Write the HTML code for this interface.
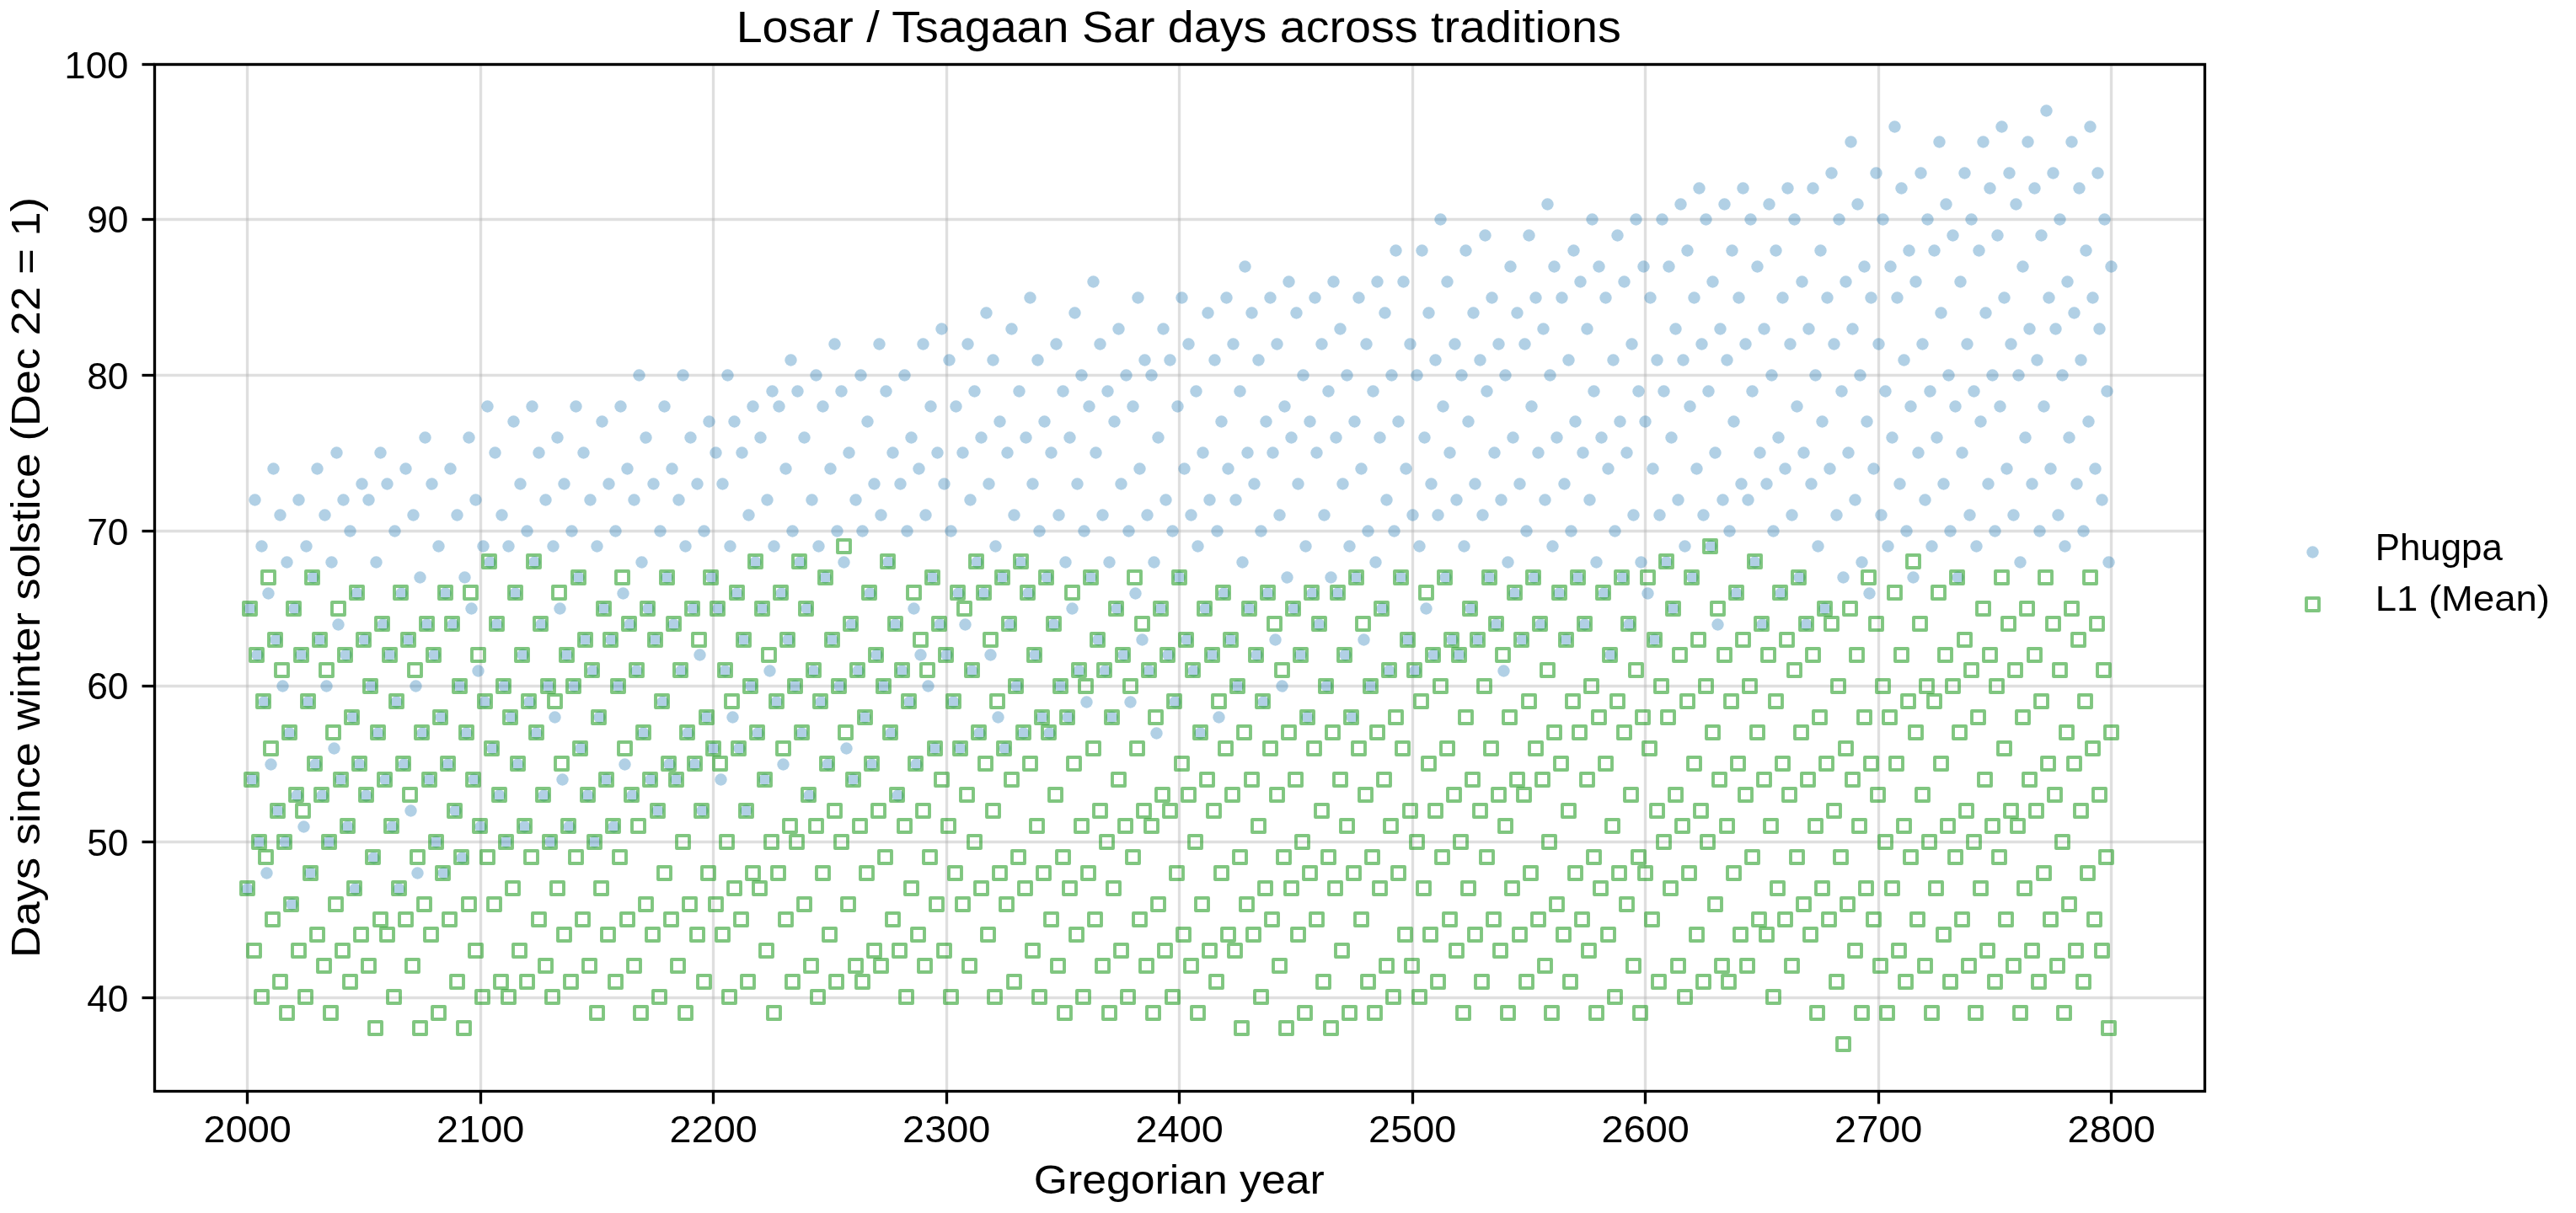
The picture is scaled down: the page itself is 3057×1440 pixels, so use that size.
<!DOCTYPE html><html><head><meta charset="utf-8"><title>Losar / Tsagaan Sar days across traditions</title>
<style>html,body{margin:0;padding:0;background:#fff;overflow:hidden}svg{display:block;will-change:transform}text{font-family:"Liberation Sans",sans-serif;fill:#000}</style></head><body>
<svg width="3057" height="1440" viewBox="0 0 3057 1440">
<rect x="0" y="0" width="3057" height="1440" fill="#fff"/>
<g stroke="#b0b0b0" stroke-opacity="0.4" stroke-width="3.33">
<line x1="293.50" y1="76.5" x2="293.50" y2="1295.5"/>
<line x1="570.50" y1="76.5" x2="570.50" y2="1295.5"/>
<line x1="846.50" y1="76.5" x2="846.50" y2="1295.5"/>
<line x1="1123.50" y1="76.5" x2="1123.50" y2="1295.5"/>
<line x1="1399.50" y1="76.5" x2="1399.50" y2="1295.5"/>
<line x1="1676.50" y1="76.5" x2="1676.50" y2="1295.5"/>
<line x1="1952.50" y1="76.5" x2="1952.50" y2="1295.5"/>
<line x1="2229.50" y1="76.5" x2="2229.50" y2="1295.5"/>
<line x1="2505.50" y1="76.5" x2="2505.50" y2="1295.5"/>
<line x1="183.5" y1="1184.50" x2="2616.5" y2="1184.50"/>
<line x1="183.5" y1="999.50" x2="2616.5" y2="999.50"/>
<line x1="183.5" y1="814.50" x2="2616.5" y2="814.50"/>
<line x1="183.5" y1="630.50" x2="2616.5" y2="630.50"/>
<line x1="183.5" y1="445.50" x2="2616.5" y2="445.50"/>
<line x1="183.5" y1="260.50" x2="2616.5" y2="260.50"/>
<line x1="183.5" y1="76.50" x2="2616.5" y2="76.50"/>
</g>
<g fill="#1f77b4" fill-opacity="0.35">
<circle cx="293.50" cy="1055.50" r="7.2"/><circle cx="296.50" cy="722.50" r="7.2"/><circle cx="299.50" cy="925.50" r="7.2"/><circle cx="302.50" cy="593.50" r="7.2"/><circle cx="305.50" cy="777.50" r="7.2"/><circle cx="307.50" cy="999.50" r="7.2"/><circle cx="310.50" cy="648.50" r="7.2"/><circle cx="313.50" cy="833.50" r="7.2"/><circle cx="316.50" cy="1036.50" r="7.2"/><circle cx="318.50" cy="704.50" r="7.2"/><circle cx="321.50" cy="907.50" r="7.2"/><circle cx="324.50" cy="556.50" r="7.2"/><circle cx="327.50" cy="759.50" r="7.2"/><circle cx="329.50" cy="962.50" r="7.2"/><circle cx="332.50" cy="611.50" r="7.2"/><circle cx="335.50" cy="814.50" r="7.2"/><circle cx="338.50" cy="999.50" r="7.2"/><circle cx="340.50" cy="667.50" r="7.2"/><circle cx="343.50" cy="870.50" r="7.2"/><circle cx="346.50" cy="1073.50" r="7.2"/><circle cx="349.50" cy="722.50" r="7.2"/><circle cx="352.50" cy="944.50" r="7.2"/><circle cx="354.50" cy="593.50" r="7.2"/><circle cx="357.50" cy="777.50" r="7.2"/><circle cx="360.50" cy="981.50" r="7.2"/><circle cx="363.50" cy="648.50" r="7.2"/><circle cx="365.50" cy="833.50" r="7.2"/><circle cx="368.50" cy="1036.50" r="7.2"/><circle cx="371.50" cy="685.50" r="7.2"/><circle cx="374.50" cy="907.50" r="7.2"/><circle cx="376.50" cy="556.50" r="7.2"/><circle cx="379.50" cy="759.50" r="7.2"/><circle cx="382.50" cy="944.50" r="7.2"/><circle cx="385.50" cy="611.50" r="7.2"/><circle cx="387.50" cy="814.50" r="7.2"/><circle cx="390.50" cy="999.50" r="7.2"/><circle cx="393.50" cy="667.50" r="7.2"/><circle cx="396.50" cy="888.50" r="7.2"/><circle cx="399.50" cy="537.50" r="7.2"/><circle cx="401.50" cy="741.50" r="7.2"/><circle cx="404.50" cy="925.50" r="7.2"/><circle cx="407.50" cy="593.50" r="7.2"/><circle cx="410.50" cy="777.50" r="7.2"/><circle cx="412.50" cy="981.50" r="7.2"/><circle cx="415.50" cy="630.50" r="7.2"/><circle cx="418.50" cy="851.50" r="7.2"/><circle cx="421.50" cy="1055.50" r="7.2"/><circle cx="423.50" cy="704.50" r="7.2"/><circle cx="426.50" cy="907.50" r="7.2"/><circle cx="429.50" cy="574.50" r="7.2"/><circle cx="432.50" cy="759.50" r="7.2"/><circle cx="434.50" cy="944.50" r="7.2"/><circle cx="437.50" cy="593.50" r="7.2"/><circle cx="440.50" cy="814.50" r="7.2"/><circle cx="443.50" cy="1018.50" r="7.2"/><circle cx="446.50" cy="667.50" r="7.2"/><circle cx="448.50" cy="870.50" r="7.2"/><circle cx="451.50" cy="537.50" r="7.2"/><circle cx="454.50" cy="741.50" r="7.2"/><circle cx="457.50" cy="925.50" r="7.2"/><circle cx="459.50" cy="574.50" r="7.2"/><circle cx="462.50" cy="777.50" r="7.2"/><circle cx="465.50" cy="981.50" r="7.2"/><circle cx="468.50" cy="630.50" r="7.2"/><circle cx="470.50" cy="833.50" r="7.2"/><circle cx="473.50" cy="1055.50" r="7.2"/><circle cx="476.50" cy="704.50" r="7.2"/><circle cx="479.50" cy="907.50" r="7.2"/><circle cx="481.50" cy="556.50" r="7.2"/><circle cx="484.50" cy="759.50" r="7.2"/><circle cx="487.50" cy="962.50" r="7.2"/><circle cx="490.50" cy="611.50" r="7.2"/><circle cx="493.50" cy="814.50" r="7.2"/><circle cx="495.50" cy="1036.50" r="7.2"/><circle cx="498.50" cy="685.50" r="7.2"/><circle cx="501.50" cy="870.50" r="7.2"/><circle cx="504.50" cy="519.50" r="7.2"/><circle cx="506.50" cy="741.50" r="7.2"/><circle cx="509.50" cy="925.50" r="7.2"/><circle cx="512.50" cy="574.50" r="7.2"/><circle cx="515.50" cy="777.50" r="7.2"/><circle cx="517.50" cy="999.50" r="7.2"/><circle cx="520.50" cy="648.50" r="7.2"/><circle cx="523.50" cy="851.50" r="7.2"/><circle cx="526.50" cy="1036.50" r="7.2"/><circle cx="528.50" cy="704.50" r="7.2"/><circle cx="531.50" cy="907.50" r="7.2"/><circle cx="534.50" cy="556.50" r="7.2"/><circle cx="537.50" cy="741.50" r="7.2"/><circle cx="540.50" cy="962.50" r="7.2"/><circle cx="542.50" cy="611.50" r="7.2"/><circle cx="545.50" cy="814.50" r="7.2"/><circle cx="548.50" cy="1018.50" r="7.2"/><circle cx="551.50" cy="685.50" r="7.2"/><circle cx="553.50" cy="870.50" r="7.2"/><circle cx="556.50" cy="519.50" r="7.2"/><circle cx="559.50" cy="722.50" r="7.2"/><circle cx="562.50" cy="925.50" r="7.2"/><circle cx="564.50" cy="593.50" r="7.2"/><circle cx="567.50" cy="796.50" r="7.2"/><circle cx="570.50" cy="981.50" r="7.2"/><circle cx="573.50" cy="648.50" r="7.2"/><circle cx="575.50" cy="833.50" r="7.2"/><circle cx="578.50" cy="482.50" r="7.2"/><circle cx="581.50" cy="667.50" r="7.2"/><circle cx="584.50" cy="888.50" r="7.2"/><circle cx="587.50" cy="537.50" r="7.2"/><circle cx="589.50" cy="741.50" r="7.2"/><circle cx="592.50" cy="944.50" r="7.2"/><circle cx="595.50" cy="611.50" r="7.2"/><circle cx="598.50" cy="814.50" r="7.2"/><circle cx="600.50" cy="999.50" r="7.2"/><circle cx="603.50" cy="648.50" r="7.2"/><circle cx="606.50" cy="851.50" r="7.2"/><circle cx="609.50" cy="500.50" r="7.2"/><circle cx="611.50" cy="704.50" r="7.2"/><circle cx="614.50" cy="907.50" r="7.2"/><circle cx="617.50" cy="574.50" r="7.2"/><circle cx="620.50" cy="777.50" r="7.2"/><circle cx="622.50" cy="981.50" r="7.2"/><circle cx="625.50" cy="630.50" r="7.2"/><circle cx="628.50" cy="833.50" r="7.2"/><circle cx="631.50" cy="482.50" r="7.2"/><circle cx="634.50" cy="667.50" r="7.2"/><circle cx="636.50" cy="870.50" r="7.2"/><circle cx="639.50" cy="537.50" r="7.2"/><circle cx="642.50" cy="741.50" r="7.2"/><circle cx="645.50" cy="944.50" r="7.2"/><circle cx="647.50" cy="593.50" r="7.2"/><circle cx="650.50" cy="814.50" r="7.2"/><circle cx="653.50" cy="999.50" r="7.2"/><circle cx="656.50" cy="648.50" r="7.2"/><circle cx="658.50" cy="851.50" r="7.2"/><circle cx="661.50" cy="519.50" r="7.2"/><circle cx="664.50" cy="722.50" r="7.2"/><circle cx="667.50" cy="925.50" r="7.2"/><circle cx="669.50" cy="574.50" r="7.2"/><circle cx="672.50" cy="777.50" r="7.2"/><circle cx="675.50" cy="981.50" r="7.2"/><circle cx="678.50" cy="630.50" r="7.2"/><circle cx="681.50" cy="814.50" r="7.2"/><circle cx="683.50" cy="482.50" r="7.2"/><circle cx="686.50" cy="685.50" r="7.2"/><circle cx="689.50" cy="888.50" r="7.2"/><circle cx="692.50" cy="537.50" r="7.2"/><circle cx="694.50" cy="759.50" r="7.2"/><circle cx="697.50" cy="944.50" r="7.2"/><circle cx="700.50" cy="593.50" r="7.2"/><circle cx="703.50" cy="796.50" r="7.2"/><circle cx="705.50" cy="999.50" r="7.2"/><circle cx="708.50" cy="648.50" r="7.2"/><circle cx="711.50" cy="851.50" r="7.2"/><circle cx="714.50" cy="500.50" r="7.2"/><circle cx="716.50" cy="722.50" r="7.2"/><circle cx="719.50" cy="925.50" r="7.2"/><circle cx="722.50" cy="574.50" r="7.2"/><circle cx="725.50" cy="759.50" r="7.2"/><circle cx="728.50" cy="981.50" r="7.2"/><circle cx="730.50" cy="630.50" r="7.2"/><circle cx="733.50" cy="814.50" r="7.2"/><circle cx="736.50" cy="482.50" r="7.2"/><circle cx="739.50" cy="704.50" r="7.2"/><circle cx="741.50" cy="907.50" r="7.2"/><circle cx="744.50" cy="556.50" r="7.2"/><circle cx="747.50" cy="741.50" r="7.2"/><circle cx="750.50" cy="944.50" r="7.2"/><circle cx="752.50" cy="593.50" r="7.2"/><circle cx="755.50" cy="796.50" r="7.2"/><circle cx="758.50" cy="445.50" r="7.2"/><circle cx="761.50" cy="667.50" r="7.2"/><circle cx="763.50" cy="870.50" r="7.2"/><circle cx="766.50" cy="519.50" r="7.2"/><circle cx="769.50" cy="722.50" r="7.2"/><circle cx="772.50" cy="925.50" r="7.2"/><circle cx="775.50" cy="574.50" r="7.2"/><circle cx="777.50" cy="759.50" r="7.2"/><circle cx="780.50" cy="962.50" r="7.2"/><circle cx="783.50" cy="630.50" r="7.2"/><circle cx="786.50" cy="833.50" r="7.2"/><circle cx="788.50" cy="482.50" r="7.2"/><circle cx="791.50" cy="685.50" r="7.2"/><circle cx="794.50" cy="907.50" r="7.2"/><circle cx="797.50" cy="556.50" r="7.2"/><circle cx="799.50" cy="741.50" r="7.2"/><circle cx="802.50" cy="925.50" r="7.2"/><circle cx="805.50" cy="593.50" r="7.2"/><circle cx="808.50" cy="796.50" r="7.2"/><circle cx="810.50" cy="445.50" r="7.2"/><circle cx="813.50" cy="648.50" r="7.2"/><circle cx="816.50" cy="870.50" r="7.2"/><circle cx="819.50" cy="519.50" r="7.2"/><circle cx="822.50" cy="722.50" r="7.2"/><circle cx="824.50" cy="907.50" r="7.2"/><circle cx="827.50" cy="574.50" r="7.2"/><circle cx="830.50" cy="777.50" r="7.2"/><circle cx="833.50" cy="962.50" r="7.2"/><circle cx="835.50" cy="630.50" r="7.2"/><circle cx="838.50" cy="851.50" r="7.2"/><circle cx="841.50" cy="500.50" r="7.2"/><circle cx="844.50" cy="685.50" r="7.2"/><circle cx="846.50" cy="888.50" r="7.2"/><circle cx="849.50" cy="537.50" r="7.2"/><circle cx="852.50" cy="722.50" r="7.2"/><circle cx="855.50" cy="925.50" r="7.2"/><circle cx="857.50" cy="574.50" r="7.2"/><circle cx="860.50" cy="796.50" r="7.2"/><circle cx="863.50" cy="445.50" r="7.2"/><circle cx="866.50" cy="648.50" r="7.2"/><circle cx="869.50" cy="851.50" r="7.2"/><circle cx="871.50" cy="500.50" r="7.2"/><circle cx="874.50" cy="704.50" r="7.2"/><circle cx="877.50" cy="888.50" r="7.2"/><circle cx="880.50" cy="537.50" r="7.2"/><circle cx="882.50" cy="759.50" r="7.2"/><circle cx="885.50" cy="962.50" r="7.2"/><circle cx="888.50" cy="611.50" r="7.2"/><circle cx="891.50" cy="814.50" r="7.2"/><circle cx="893.50" cy="482.50" r="7.2"/><circle cx="896.50" cy="667.50" r="7.2"/><circle cx="899.50" cy="870.50" r="7.2"/><circle cx="902.50" cy="519.50" r="7.2"/><circle cx="904.50" cy="722.50" r="7.2"/><circle cx="907.50" cy="925.50" r="7.2"/><circle cx="910.50" cy="593.50" r="7.2"/><circle cx="913.50" cy="796.50" r="7.2"/><circle cx="916.50" cy="464.50" r="7.2"/><circle cx="918.50" cy="648.50" r="7.2"/><circle cx="921.50" cy="833.50" r="7.2"/><circle cx="924.50" cy="482.50" r="7.2"/><circle cx="927.50" cy="704.50" r="7.2"/><circle cx="929.50" cy="907.50" r="7.2"/><circle cx="932.50" cy="556.50" r="7.2"/><circle cx="935.50" cy="759.50" r="7.2"/><circle cx="938.50" cy="427.50" r="7.2"/><circle cx="940.50" cy="630.50" r="7.2"/><circle cx="943.50" cy="814.50" r="7.2"/><circle cx="946.50" cy="464.50" r="7.2"/><circle cx="949.50" cy="667.50" r="7.2"/><circle cx="951.50" cy="870.50" r="7.2"/><circle cx="954.50" cy="519.50" r="7.2"/><circle cx="957.50" cy="722.50" r="7.2"/><circle cx="960.50" cy="944.50" r="7.2"/><circle cx="963.50" cy="593.50" r="7.2"/><circle cx="965.50" cy="796.50" r="7.2"/><circle cx="968.50" cy="445.50" r="7.2"/><circle cx="971.50" cy="648.50" r="7.2"/><circle cx="974.50" cy="833.50" r="7.2"/><circle cx="976.50" cy="482.50" r="7.2"/><circle cx="979.50" cy="685.50" r="7.2"/><circle cx="982.50" cy="907.50" r="7.2"/><circle cx="985.50" cy="556.50" r="7.2"/><circle cx="987.50" cy="759.50" r="7.2"/><circle cx="990.50" cy="408.50" r="7.2"/><circle cx="993.50" cy="630.50" r="7.2"/><circle cx="996.50" cy="814.50" r="7.2"/><circle cx="998.50" cy="464.50" r="7.2"/><circle cx="1001.50" cy="667.50" r="7.2"/><circle cx="1004.50" cy="888.50" r="7.2"/><circle cx="1007.50" cy="537.50" r="7.2"/><circle cx="1010.50" cy="741.50" r="7.2"/><circle cx="1012.50" cy="925.50" r="7.2"/><circle cx="1015.50" cy="593.50" r="7.2"/><circle cx="1018.50" cy="796.50" r="7.2"/><circle cx="1021.50" cy="445.50" r="7.2"/><circle cx="1023.50" cy="630.50" r="7.2"/><circle cx="1026.50" cy="851.50" r="7.2"/><circle cx="1029.50" cy="500.50" r="7.2"/><circle cx="1032.50" cy="704.50" r="7.2"/><circle cx="1034.50" cy="907.50" r="7.2"/><circle cx="1037.50" cy="574.50" r="7.2"/><circle cx="1040.50" cy="777.50" r="7.2"/><circle cx="1043.50" cy="408.50" r="7.2"/><circle cx="1045.50" cy="611.50" r="7.2"/><circle cx="1048.50" cy="814.50" r="7.2"/><circle cx="1051.50" cy="464.50" r="7.2"/><circle cx="1054.50" cy="667.50" r="7.2"/><circle cx="1057.50" cy="870.50" r="7.2"/><circle cx="1059.50" cy="537.50" r="7.2"/><circle cx="1062.50" cy="741.50" r="7.2"/><circle cx="1065.50" cy="944.50" r="7.2"/><circle cx="1068.50" cy="574.50" r="7.2"/><circle cx="1070.50" cy="796.50" r="7.2"/><circle cx="1073.50" cy="445.50" r="7.2"/><circle cx="1076.50" cy="630.50" r="7.2"/><circle cx="1079.50" cy="833.50" r="7.2"/><circle cx="1081.50" cy="519.50" r="7.2"/><circle cx="1084.50" cy="722.50" r="7.2"/><circle cx="1087.50" cy="907.50" r="7.2"/><circle cx="1090.50" cy="556.50" r="7.2"/><circle cx="1092.50" cy="777.50" r="7.2"/><circle cx="1095.50" cy="408.50" r="7.2"/><circle cx="1098.50" cy="611.50" r="7.2"/><circle cx="1101.50" cy="814.50" r="7.2"/><circle cx="1104.50" cy="482.50" r="7.2"/><circle cx="1106.50" cy="685.50" r="7.2"/><circle cx="1109.50" cy="888.50" r="7.2"/><circle cx="1112.50" cy="537.50" r="7.2"/><circle cx="1115.50" cy="741.50" r="7.2"/><circle cx="1117.50" cy="390.50" r="7.2"/><circle cx="1120.50" cy="574.50" r="7.2"/><circle cx="1123.50" cy="777.50" r="7.2"/><circle cx="1126.50" cy="427.50" r="7.2"/><circle cx="1128.50" cy="630.50" r="7.2"/><circle cx="1131.50" cy="833.50" r="7.2"/><circle cx="1134.50" cy="482.50" r="7.2"/><circle cx="1137.50" cy="704.50" r="7.2"/><circle cx="1139.50" cy="888.50" r="7.2"/><circle cx="1142.50" cy="537.50" r="7.2"/><circle cx="1145.50" cy="741.50" r="7.2"/><circle cx="1148.50" cy="408.50" r="7.2"/><circle cx="1151.50" cy="593.50" r="7.2"/><circle cx="1153.50" cy="796.50" r="7.2"/><circle cx="1156.50" cy="464.50" r="7.2"/><circle cx="1159.50" cy="667.50" r="7.2"/><circle cx="1162.50" cy="870.50" r="7.2"/><circle cx="1164.50" cy="519.50" r="7.2"/><circle cx="1167.50" cy="704.50" r="7.2"/><circle cx="1170.50" cy="371.50" r="7.2"/><circle cx="1173.50" cy="574.50" r="7.2"/><circle cx="1175.50" cy="777.50" r="7.2"/><circle cx="1178.50" cy="427.50" r="7.2"/><circle cx="1181.50" cy="648.50" r="7.2"/><circle cx="1184.50" cy="851.50" r="7.2"/><circle cx="1186.50" cy="500.50" r="7.2"/><circle cx="1189.50" cy="685.50" r="7.2"/><circle cx="1192.50" cy="888.50" r="7.2"/><circle cx="1195.50" cy="537.50" r="7.2"/><circle cx="1198.50" cy="741.50" r="7.2"/><circle cx="1200.50" cy="390.50" r="7.2"/><circle cx="1203.50" cy="611.50" r="7.2"/><circle cx="1206.50" cy="814.50" r="7.2"/><circle cx="1209.50" cy="464.50" r="7.2"/><circle cx="1211.50" cy="667.50" r="7.2"/><circle cx="1214.50" cy="870.50" r="7.2"/><circle cx="1217.50" cy="519.50" r="7.2"/><circle cx="1220.50" cy="704.50" r="7.2"/><circle cx="1222.50" cy="353.50" r="7.2"/><circle cx="1225.50" cy="574.50" r="7.2"/><circle cx="1228.50" cy="777.50" r="7.2"/><circle cx="1231.50" cy="427.50" r="7.2"/><circle cx="1233.50" cy="630.50" r="7.2"/><circle cx="1236.50" cy="851.50" r="7.2"/><circle cx="1239.50" cy="500.50" r="7.2"/><circle cx="1242.50" cy="685.50" r="7.2"/><circle cx="1245.50" cy="870.50" r="7.2"/><circle cx="1247.50" cy="537.50" r="7.2"/><circle cx="1250.50" cy="741.50" r="7.2"/><circle cx="1253.50" cy="408.50" r="7.2"/><circle cx="1256.50" cy="611.50" r="7.2"/><circle cx="1258.50" cy="814.50" r="7.2"/><circle cx="1261.50" cy="464.50" r="7.2"/><circle cx="1264.50" cy="667.50" r="7.2"/><circle cx="1267.50" cy="851.50" r="7.2"/><circle cx="1269.50" cy="519.50" r="7.2"/><circle cx="1272.50" cy="722.50" r="7.2"/><circle cx="1275.50" cy="371.50" r="7.2"/><circle cx="1278.50" cy="574.50" r="7.2"/><circle cx="1280.50" cy="796.50" r="7.2"/><circle cx="1283.50" cy="445.50" r="7.2"/><circle cx="1286.50" cy="630.50" r="7.2"/><circle cx="1289.50" cy="833.50" r="7.2"/><circle cx="1292.50" cy="482.50" r="7.2"/><circle cx="1294.50" cy="685.50" r="7.2"/><circle cx="1297.50" cy="334.50" r="7.2"/><circle cx="1300.50" cy="537.50" r="7.2"/><circle cx="1303.50" cy="759.50" r="7.2"/><circle cx="1305.50" cy="408.50" r="7.2"/><circle cx="1308.50" cy="611.50" r="7.2"/><circle cx="1311.50" cy="796.50" r="7.2"/><circle cx="1314.50" cy="464.50" r="7.2"/><circle cx="1316.50" cy="667.50" r="7.2"/><circle cx="1319.50" cy="851.50" r="7.2"/><circle cx="1322.50" cy="500.50" r="7.2"/><circle cx="1325.50" cy="722.50" r="7.2"/><circle cx="1327.50" cy="390.50" r="7.2"/><circle cx="1330.50" cy="574.50" r="7.2"/><circle cx="1333.50" cy="777.50" r="7.2"/><circle cx="1336.50" cy="445.50" r="7.2"/><circle cx="1339.50" cy="630.50" r="7.2"/><circle cx="1341.50" cy="833.50" r="7.2"/><circle cx="1344.50" cy="482.50" r="7.2"/><circle cx="1347.50" cy="704.50" r="7.2"/><circle cx="1350.50" cy="353.50" r="7.2"/><circle cx="1352.50" cy="556.50" r="7.2"/><circle cx="1355.50" cy="759.50" r="7.2"/><circle cx="1358.50" cy="427.50" r="7.2"/><circle cx="1361.50" cy="611.50" r="7.2"/><circle cx="1363.50" cy="796.50" r="7.2"/><circle cx="1366.50" cy="445.50" r="7.2"/><circle cx="1369.50" cy="667.50" r="7.2"/><circle cx="1372.50" cy="870.50" r="7.2"/><circle cx="1374.50" cy="519.50" r="7.2"/><circle cx="1377.50" cy="722.50" r="7.2"/><circle cx="1380.50" cy="390.50" r="7.2"/><circle cx="1383.50" cy="593.50" r="7.2"/><circle cx="1386.50" cy="777.50" r="7.2"/><circle cx="1388.50" cy="427.50" r="7.2"/><circle cx="1391.50" cy="630.50" r="7.2"/><circle cx="1394.50" cy="833.50" r="7.2"/><circle cx="1397.50" cy="482.50" r="7.2"/><circle cx="1399.50" cy="685.50" r="7.2"/><circle cx="1402.50" cy="353.50" r="7.2"/><circle cx="1405.50" cy="556.50" r="7.2"/><circle cx="1408.50" cy="759.50" r="7.2"/><circle cx="1410.50" cy="408.50" r="7.2"/><circle cx="1413.50" cy="611.50" r="7.2"/><circle cx="1416.50" cy="796.50" r="7.2"/><circle cx="1419.50" cy="464.50" r="7.2"/><circle cx="1421.50" cy="648.50" r="7.2"/><circle cx="1424.50" cy="870.50" r="7.2"/><circle cx="1427.50" cy="537.50" r="7.2"/><circle cx="1430.50" cy="722.50" r="7.2"/><circle cx="1433.50" cy="371.50" r="7.2"/><circle cx="1435.50" cy="593.50" r="7.2"/><circle cx="1438.50" cy="777.50" r="7.2"/><circle cx="1441.50" cy="427.50" r="7.2"/><circle cx="1444.50" cy="630.50" r="7.2"/><circle cx="1446.50" cy="851.50" r="7.2"/><circle cx="1449.50" cy="500.50" r="7.2"/><circle cx="1452.50" cy="704.50" r="7.2"/><circle cx="1455.50" cy="353.50" r="7.2"/><circle cx="1457.50" cy="556.50" r="7.2"/><circle cx="1460.50" cy="759.50" r="7.2"/><circle cx="1463.50" cy="408.50" r="7.2"/><circle cx="1466.50" cy="593.50" r="7.2"/><circle cx="1468.50" cy="814.50" r="7.2"/><circle cx="1471.50" cy="464.50" r="7.2"/><circle cx="1474.50" cy="667.50" r="7.2"/><circle cx="1477.50" cy="316.50" r="7.2"/><circle cx="1480.50" cy="537.50" r="7.2"/><circle cx="1482.50" cy="722.50" r="7.2"/><circle cx="1485.50" cy="371.50" r="7.2"/><circle cx="1488.50" cy="574.50" r="7.2"/><circle cx="1491.50" cy="777.50" r="7.2"/><circle cx="1493.50" cy="427.50" r="7.2"/><circle cx="1496.50" cy="630.50" r="7.2"/><circle cx="1499.50" cy="833.50" r="7.2"/><circle cx="1502.50" cy="500.50" r="7.2"/><circle cx="1504.50" cy="704.50" r="7.2"/><circle cx="1507.50" cy="353.50" r="7.2"/><circle cx="1510.50" cy="537.50" r="7.2"/><circle cx="1513.50" cy="759.50" r="7.2"/><circle cx="1515.50" cy="408.50" r="7.2"/><circle cx="1518.50" cy="611.50" r="7.2"/><circle cx="1521.50" cy="814.50" r="7.2"/><circle cx="1524.50" cy="482.50" r="7.2"/><circle cx="1527.50" cy="685.50" r="7.2"/><circle cx="1529.50" cy="334.50" r="7.2"/><circle cx="1532.50" cy="519.50" r="7.2"/><circle cx="1535.50" cy="722.50" r="7.2"/><circle cx="1538.50" cy="371.50" r="7.2"/><circle cx="1540.50" cy="574.50" r="7.2"/><circle cx="1543.50" cy="777.50" r="7.2"/><circle cx="1546.50" cy="445.50" r="7.2"/><circle cx="1549.50" cy="648.50" r="7.2"/><circle cx="1551.50" cy="851.50" r="7.2"/><circle cx="1554.50" cy="500.50" r="7.2"/><circle cx="1557.50" cy="704.50" r="7.2"/><circle cx="1560.50" cy="353.50" r="7.2"/><circle cx="1562.50" cy="537.50" r="7.2"/><circle cx="1565.50" cy="741.50" r="7.2"/><circle cx="1568.50" cy="408.50" r="7.2"/><circle cx="1571.50" cy="611.50" r="7.2"/><circle cx="1574.50" cy="814.50" r="7.2"/><circle cx="1576.50" cy="464.50" r="7.2"/><circle cx="1579.50" cy="685.50" r="7.2"/><circle cx="1582.50" cy="334.50" r="7.2"/><circle cx="1585.50" cy="519.50" r="7.2"/><circle cx="1587.50" cy="704.50" r="7.2"/><circle cx="1590.50" cy="390.50" r="7.2"/><circle cx="1593.50" cy="574.50" r="7.2"/><circle cx="1596.50" cy="777.50" r="7.2"/><circle cx="1598.50" cy="445.50" r="7.2"/><circle cx="1601.50" cy="648.50" r="7.2"/><circle cx="1604.50" cy="851.50" r="7.2"/><circle cx="1607.50" cy="500.50" r="7.2"/><circle cx="1609.50" cy="685.50" r="7.2"/><circle cx="1612.50" cy="353.50" r="7.2"/><circle cx="1615.50" cy="556.50" r="7.2"/><circle cx="1618.50" cy="759.50" r="7.2"/><circle cx="1621.50" cy="408.50" r="7.2"/><circle cx="1623.50" cy="630.50" r="7.2"/><circle cx="1626.50" cy="814.50" r="7.2"/><circle cx="1629.50" cy="464.50" r="7.2"/><circle cx="1632.50" cy="667.50" r="7.2"/><circle cx="1634.50" cy="334.50" r="7.2"/><circle cx="1637.50" cy="519.50" r="7.2"/><circle cx="1640.50" cy="722.50" r="7.2"/><circle cx="1643.50" cy="371.50" r="7.2"/><circle cx="1645.50" cy="593.50" r="7.2"/><circle cx="1648.50" cy="796.50" r="7.2"/><circle cx="1651.50" cy="445.50" r="7.2"/><circle cx="1654.50" cy="630.50" r="7.2"/><circle cx="1656.50" cy="297.50" r="7.2"/><circle cx="1659.50" cy="500.50" r="7.2"/><circle cx="1662.50" cy="685.50" r="7.2"/><circle cx="1665.50" cy="334.50" r="7.2"/><circle cx="1668.50" cy="556.50" r="7.2"/><circle cx="1670.50" cy="759.50" r="7.2"/><circle cx="1673.50" cy="408.50" r="7.2"/><circle cx="1676.50" cy="611.50" r="7.2"/><circle cx="1679.50" cy="796.50" r="7.2"/><circle cx="1681.50" cy="445.50" r="7.2"/><circle cx="1684.50" cy="648.50" r="7.2"/><circle cx="1687.50" cy="297.50" r="7.2"/><circle cx="1690.50" cy="519.50" r="7.2"/><circle cx="1692.50" cy="722.50" r="7.2"/><circle cx="1695.50" cy="371.50" r="7.2"/><circle cx="1698.50" cy="574.50" r="7.2"/><circle cx="1701.50" cy="777.50" r="7.2"/><circle cx="1703.50" cy="427.50" r="7.2"/><circle cx="1706.50" cy="611.50" r="7.2"/><circle cx="1709.50" cy="260.50" r="7.2"/><circle cx="1712.50" cy="482.50" r="7.2"/><circle cx="1715.50" cy="685.50" r="7.2"/><circle cx="1717.50" cy="334.50" r="7.2"/><circle cx="1720.50" cy="537.50" r="7.2"/><circle cx="1723.50" cy="759.50" r="7.2"/><circle cx="1726.50" cy="408.50" r="7.2"/><circle cx="1728.50" cy="593.50" r="7.2"/><circle cx="1731.50" cy="777.50" r="7.2"/><circle cx="1734.50" cy="445.50" r="7.2"/><circle cx="1737.50" cy="648.50" r="7.2"/><circle cx="1739.50" cy="297.50" r="7.2"/><circle cx="1742.50" cy="500.50" r="7.2"/><circle cx="1745.50" cy="722.50" r="7.2"/><circle cx="1748.50" cy="371.50" r="7.2"/><circle cx="1750.50" cy="574.50" r="7.2"/><circle cx="1753.50" cy="759.50" r="7.2"/><circle cx="1756.50" cy="427.50" r="7.2"/><circle cx="1759.50" cy="611.50" r="7.2"/><circle cx="1762.50" cy="279.50" r="7.2"/><circle cx="1764.50" cy="464.50" r="7.2"/><circle cx="1767.50" cy="685.50" r="7.2"/><circle cx="1770.50" cy="353.50" r="7.2"/><circle cx="1773.50" cy="537.50" r="7.2"/><circle cx="1775.50" cy="741.50" r="7.2"/><circle cx="1778.50" cy="408.50" r="7.2"/><circle cx="1781.50" cy="593.50" r="7.2"/><circle cx="1784.50" cy="796.50" r="7.2"/><circle cx="1786.50" cy="445.50" r="7.2"/><circle cx="1789.50" cy="667.50" r="7.2"/><circle cx="1792.50" cy="316.50" r="7.2"/><circle cx="1795.50" cy="519.50" r="7.2"/><circle cx="1797.50" cy="704.50" r="7.2"/><circle cx="1800.50" cy="371.50" r="7.2"/><circle cx="1803.50" cy="574.50" r="7.2"/><circle cx="1806.50" cy="759.50" r="7.2"/><circle cx="1809.50" cy="408.50" r="7.2"/><circle cx="1811.50" cy="630.50" r="7.2"/><circle cx="1814.50" cy="279.50" r="7.2"/><circle cx="1817.50" cy="482.50" r="7.2"/><circle cx="1820.50" cy="685.50" r="7.2"/><circle cx="1822.50" cy="353.50" r="7.2"/><circle cx="1825.50" cy="537.50" r="7.2"/><circle cx="1828.50" cy="741.50" r="7.2"/><circle cx="1831.50" cy="390.50" r="7.2"/><circle cx="1833.50" cy="593.50" r="7.2"/><circle cx="1836.50" cy="242.50" r="7.2"/><circle cx="1839.50" cy="445.50" r="7.2"/><circle cx="1842.50" cy="648.50" r="7.2"/><circle cx="1844.50" cy="316.50" r="7.2"/><circle cx="1847.50" cy="519.50" r="7.2"/><circle cx="1850.50" cy="704.50" r="7.2"/><circle cx="1853.50" cy="353.50" r="7.2"/><circle cx="1856.50" cy="574.50" r="7.2"/><circle cx="1858.50" cy="759.50" r="7.2"/><circle cx="1861.50" cy="427.50" r="7.2"/><circle cx="1864.50" cy="630.50" r="7.2"/><circle cx="1867.50" cy="297.50" r="7.2"/><circle cx="1869.50" cy="500.50" r="7.2"/><circle cx="1872.50" cy="685.50" r="7.2"/><circle cx="1875.50" cy="334.50" r="7.2"/><circle cx="1878.50" cy="537.50" r="7.2"/><circle cx="1880.50" cy="741.50" r="7.2"/><circle cx="1883.50" cy="390.50" r="7.2"/><circle cx="1886.50" cy="593.50" r="7.2"/><circle cx="1889.50" cy="260.50" r="7.2"/><circle cx="1891.50" cy="464.50" r="7.2"/><circle cx="1894.50" cy="667.50" r="7.2"/><circle cx="1897.50" cy="316.50" r="7.2"/><circle cx="1900.50" cy="519.50" r="7.2"/><circle cx="1903.50" cy="704.50" r="7.2"/><circle cx="1905.50" cy="353.50" r="7.2"/><circle cx="1908.50" cy="556.50" r="7.2"/><circle cx="1911.50" cy="777.50" r="7.2"/><circle cx="1914.50" cy="427.50" r="7.2"/><circle cx="1916.50" cy="630.50" r="7.2"/><circle cx="1919.50" cy="279.50" r="7.2"/><circle cx="1922.50" cy="500.50" r="7.2"/><circle cx="1925.50" cy="685.50" r="7.2"/><circle cx="1927.50" cy="334.50" r="7.2"/><circle cx="1930.50" cy="537.50" r="7.2"/><circle cx="1933.50" cy="741.50" r="7.2"/><circle cx="1936.50" cy="408.50" r="7.2"/><circle cx="1938.50" cy="611.50" r="7.2"/><circle cx="1941.50" cy="260.50" r="7.2"/><circle cx="1944.50" cy="464.50" r="7.2"/><circle cx="1947.50" cy="667.50" r="7.2"/><circle cx="1950.50" cy="316.50" r="7.2"/><circle cx="1952.50" cy="500.50" r="7.2"/><circle cx="1955.50" cy="704.50" r="7.2"/><circle cx="1958.50" cy="353.50" r="7.2"/><circle cx="1961.50" cy="556.50" r="7.2"/><circle cx="1963.50" cy="759.50" r="7.2"/><circle cx="1966.50" cy="427.50" r="7.2"/><circle cx="1969.50" cy="611.50" r="7.2"/><circle cx="1972.50" cy="260.50" r="7.2"/><circle cx="1974.50" cy="464.50" r="7.2"/><circle cx="1977.50" cy="667.50" r="7.2"/><circle cx="1980.50" cy="316.50" r="7.2"/><circle cx="1983.50" cy="519.50" r="7.2"/><circle cx="1985.50" cy="722.50" r="7.2"/><circle cx="1988.50" cy="390.50" r="7.2"/><circle cx="1991.50" cy="593.50" r="7.2"/><circle cx="1994.50" cy="242.50" r="7.2"/><circle cx="1997.50" cy="427.50" r="7.2"/><circle cx="1999.50" cy="648.50" r="7.2"/><circle cx="2002.50" cy="297.50" r="7.2"/><circle cx="2005.50" cy="482.50" r="7.2"/><circle cx="2008.50" cy="685.50" r="7.2"/><circle cx="2010.50" cy="353.50" r="7.2"/><circle cx="2013.50" cy="556.50" r="7.2"/><circle cx="2016.50" cy="223.50" r="7.2"/><circle cx="2019.50" cy="408.50" r="7.2"/><circle cx="2021.50" cy="611.50" r="7.2"/><circle cx="2024.50" cy="260.50" r="7.2"/><circle cx="2027.50" cy="464.50" r="7.2"/><circle cx="2030.50" cy="648.50" r="7.2"/><circle cx="2032.50" cy="334.50" r="7.2"/><circle cx="2035.50" cy="537.50" r="7.2"/><circle cx="2038.50" cy="741.50" r="7.2"/><circle cx="2041.50" cy="390.50" r="7.2"/><circle cx="2044.50" cy="593.50" r="7.2"/><circle cx="2046.50" cy="242.50" r="7.2"/><circle cx="2049.50" cy="427.50" r="7.2"/><circle cx="2052.50" cy="630.50" r="7.2"/><circle cx="2055.50" cy="297.50" r="7.2"/><circle cx="2057.50" cy="500.50" r="7.2"/><circle cx="2060.50" cy="704.50" r="7.2"/><circle cx="2063.50" cy="353.50" r="7.2"/><circle cx="2066.50" cy="574.50" r="7.2"/><circle cx="2068.50" cy="223.50" r="7.2"/><circle cx="2071.50" cy="408.50" r="7.2"/><circle cx="2074.50" cy="593.50" r="7.2"/><circle cx="2077.50" cy="260.50" r="7.2"/><circle cx="2079.50" cy="464.50" r="7.2"/><circle cx="2082.50" cy="667.50" r="7.2"/><circle cx="2085.50" cy="316.50" r="7.2"/><circle cx="2088.50" cy="537.50" r="7.2"/><circle cx="2091.50" cy="741.50" r="7.2"/><circle cx="2093.50" cy="390.50" r="7.2"/><circle cx="2096.50" cy="574.50" r="7.2"/><circle cx="2099.50" cy="242.50" r="7.2"/><circle cx="2102.50" cy="445.50" r="7.2"/><circle cx="2104.50" cy="630.50" r="7.2"/><circle cx="2107.50" cy="297.50" r="7.2"/><circle cx="2110.50" cy="519.50" r="7.2"/><circle cx="2113.50" cy="704.50" r="7.2"/><circle cx="2115.50" cy="353.50" r="7.2"/><circle cx="2118.50" cy="556.50" r="7.2"/><circle cx="2121.50" cy="223.50" r="7.2"/><circle cx="2124.50" cy="408.50" r="7.2"/><circle cx="2126.50" cy="611.50" r="7.2"/><circle cx="2129.50" cy="260.50" r="7.2"/><circle cx="2132.50" cy="482.50" r="7.2"/><circle cx="2135.50" cy="685.50" r="7.2"/><circle cx="2138.50" cy="334.50" r="7.2"/><circle cx="2140.50" cy="537.50" r="7.2"/><circle cx="2143.50" cy="741.50" r="7.2"/><circle cx="2146.50" cy="390.50" r="7.2"/><circle cx="2149.50" cy="574.50" r="7.2"/><circle cx="2151.50" cy="223.50" r="7.2"/><circle cx="2154.50" cy="445.50" r="7.2"/><circle cx="2157.50" cy="648.50" r="7.2"/><circle cx="2160.50" cy="297.50" r="7.2"/><circle cx="2162.50" cy="500.50" r="7.2"/><circle cx="2165.50" cy="722.50" r="7.2"/><circle cx="2168.50" cy="353.50" r="7.2"/><circle cx="2171.50" cy="556.50" r="7.2"/><circle cx="2173.50" cy="205.50" r="7.2"/><circle cx="2176.50" cy="408.50" r="7.2"/><circle cx="2179.50" cy="611.50" r="7.2"/><circle cx="2182.50" cy="260.50" r="7.2"/><circle cx="2185.50" cy="464.50" r="7.2"/><circle cx="2187.50" cy="685.50" r="7.2"/><circle cx="2190.50" cy="334.50" r="7.2"/><circle cx="2193.50" cy="537.50" r="7.2"/><circle cx="2196.50" cy="168.50" r="7.2"/><circle cx="2198.50" cy="390.50" r="7.2"/><circle cx="2201.50" cy="593.50" r="7.2"/><circle cx="2204.50" cy="242.50" r="7.2"/><circle cx="2207.50" cy="445.50" r="7.2"/><circle cx="2209.50" cy="667.50" r="7.2"/><circle cx="2212.50" cy="316.50" r="7.2"/><circle cx="2215.50" cy="500.50" r="7.2"/><circle cx="2218.50" cy="704.50" r="7.2"/><circle cx="2220.50" cy="353.50" r="7.2"/><circle cx="2223.50" cy="556.50" r="7.2"/><circle cx="2226.50" cy="205.50" r="7.2"/><circle cx="2229.50" cy="408.50" r="7.2"/><circle cx="2232.50" cy="611.50" r="7.2"/><circle cx="2234.50" cy="260.50" r="7.2"/><circle cx="2237.50" cy="464.50" r="7.2"/><circle cx="2240.50" cy="648.50" r="7.2"/><circle cx="2243.50" cy="316.50" r="7.2"/><circle cx="2245.50" cy="519.50" r="7.2"/><circle cx="2248.50" cy="150.50" r="7.2"/><circle cx="2251.50" cy="353.50" r="7.2"/><circle cx="2254.50" cy="574.50" r="7.2"/><circle cx="2256.50" cy="223.50" r="7.2"/><circle cx="2259.50" cy="427.50" r="7.2"/><circle cx="2262.50" cy="630.50" r="7.2"/><circle cx="2265.50" cy="297.50" r="7.2"/><circle cx="2267.50" cy="482.50" r="7.2"/><circle cx="2270.50" cy="685.50" r="7.2"/><circle cx="2273.50" cy="334.50" r="7.2"/><circle cx="2276.50" cy="537.50" r="7.2"/><circle cx="2279.50" cy="205.50" r="7.2"/><circle cx="2281.50" cy="408.50" r="7.2"/><circle cx="2284.50" cy="593.50" r="7.2"/><circle cx="2287.50" cy="260.50" r="7.2"/><circle cx="2290.50" cy="464.50" r="7.2"/><circle cx="2292.50" cy="648.50" r="7.2"/><circle cx="2295.50" cy="297.50" r="7.2"/><circle cx="2298.50" cy="519.50" r="7.2"/><circle cx="2301.50" cy="168.50" r="7.2"/><circle cx="2303.50" cy="371.50" r="7.2"/><circle cx="2306.50" cy="574.50" r="7.2"/><circle cx="2309.50" cy="242.50" r="7.2"/><circle cx="2312.50" cy="445.50" r="7.2"/><circle cx="2314.50" cy="630.50" r="7.2"/><circle cx="2317.50" cy="279.50" r="7.2"/><circle cx="2320.50" cy="482.50" r="7.2"/><circle cx="2323.50" cy="685.50" r="7.2"/><circle cx="2326.50" cy="334.50" r="7.2"/><circle cx="2328.50" cy="537.50" r="7.2"/><circle cx="2331.50" cy="205.50" r="7.2"/><circle cx="2334.50" cy="408.50" r="7.2"/><circle cx="2337.50" cy="611.50" r="7.2"/><circle cx="2339.50" cy="260.50" r="7.2"/><circle cx="2342.50" cy="464.50" r="7.2"/><circle cx="2345.50" cy="648.50" r="7.2"/><circle cx="2348.50" cy="297.50" r="7.2"/><circle cx="2350.50" cy="500.50" r="7.2"/><circle cx="2353.50" cy="168.50" r="7.2"/><circle cx="2356.50" cy="371.50" r="7.2"/><circle cx="2359.50" cy="574.50" r="7.2"/><circle cx="2361.50" cy="223.50" r="7.2"/><circle cx="2364.50" cy="445.50" r="7.2"/><circle cx="2367.50" cy="630.50" r="7.2"/><circle cx="2370.50" cy="279.50" r="7.2"/><circle cx="2373.50" cy="482.50" r="7.2"/><circle cx="2375.50" cy="150.50" r="7.2"/><circle cx="2378.50" cy="353.50" r="7.2"/><circle cx="2381.50" cy="556.50" r="7.2"/><circle cx="2384.50" cy="205.50" r="7.2"/><circle cx="2386.50" cy="408.50" r="7.2"/><circle cx="2389.50" cy="611.50" r="7.2"/><circle cx="2392.50" cy="242.50" r="7.2"/><circle cx="2395.50" cy="445.50" r="7.2"/><circle cx="2397.50" cy="667.50" r="7.2"/><circle cx="2400.50" cy="316.50" r="7.2"/><circle cx="2403.50" cy="519.50" r="7.2"/><circle cx="2406.50" cy="168.50" r="7.2"/><circle cx="2408.50" cy="390.50" r="7.2"/><circle cx="2411.50" cy="574.50" r="7.2"/><circle cx="2414.50" cy="223.50" r="7.2"/><circle cx="2417.50" cy="427.50" r="7.2"/><circle cx="2420.50" cy="630.50" r="7.2"/><circle cx="2422.50" cy="279.50" r="7.2"/><circle cx="2425.50" cy="482.50" r="7.2"/><circle cx="2428.50" cy="131.50" r="7.2"/><circle cx="2431.50" cy="353.50" r="7.2"/><circle cx="2433.50" cy="556.50" r="7.2"/><circle cx="2436.50" cy="205.50" r="7.2"/><circle cx="2439.50" cy="390.50" r="7.2"/><circle cx="2442.50" cy="611.50" r="7.2"/><circle cx="2444.50" cy="260.50" r="7.2"/><circle cx="2447.50" cy="445.50" r="7.2"/><circle cx="2450.50" cy="648.50" r="7.2"/><circle cx="2453.50" cy="334.50" r="7.2"/><circle cx="2455.50" cy="519.50" r="7.2"/><circle cx="2458.50" cy="168.50" r="7.2"/><circle cx="2461.50" cy="371.50" r="7.2"/><circle cx="2464.50" cy="574.50" r="7.2"/><circle cx="2467.50" cy="223.50" r="7.2"/><circle cx="2469.50" cy="427.50" r="7.2"/><circle cx="2472.50" cy="630.50" r="7.2"/><circle cx="2475.50" cy="297.50" r="7.2"/><circle cx="2478.50" cy="500.50" r="7.2"/><circle cx="2480.50" cy="150.50" r="7.2"/><circle cx="2483.50" cy="353.50" r="7.2"/><circle cx="2486.50" cy="556.50" r="7.2"/><circle cx="2489.50" cy="205.50" r="7.2"/><circle cx="2491.50" cy="390.50" r="7.2"/><circle cx="2494.50" cy="593.50" r="7.2"/><circle cx="2497.50" cy="260.50" r="7.2"/><circle cx="2500.50" cy="464.50" r="7.2"/><circle cx="2502.50" cy="667.50" r="7.2"/><circle cx="2505.50" cy="316.50" r="7.2"/>
</g>
<g fill="none" stroke="#2ca02c" stroke-opacity="0.6" stroke-width="3.9" stroke-linejoin="round">
<rect x="286.00" y="1047.00" width="15.0" height="15.0"/><rect x="289.00" y="715.00" width="15.0" height="15.0"/><rect x="291.00" y="918.00" width="15.0" height="15.0"/><rect x="294.00" y="1121.00" width="15.0" height="15.0"/><rect x="297.00" y="770.00" width="15.0" height="15.0"/><rect x="300.00" y="992.00" width="15.0" height="15.0"/><rect x="303.00" y="1176.00" width="15.0" height="15.0"/><rect x="305.00" y="825.00" width="15.0" height="15.0"/><rect x="308.00" y="1010.00" width="15.0" height="15.0"/><rect x="311.00" y="678.00" width="15.0" height="15.0"/><rect x="314.00" y="881.00" width="15.0" height="15.0"/><rect x="316.00" y="1084.00" width="15.0" height="15.0"/><rect x="319.00" y="752.00" width="15.0" height="15.0"/><rect x="322.00" y="955.00" width="15.0" height="15.0"/><rect x="325.00" y="1158.00" width="15.0" height="15.0"/><rect x="327.00" y="788.00" width="15.0" height="15.0"/><rect x="330.00" y="992.00" width="15.0" height="15.0"/><rect x="333.00" y="1195.00" width="15.0" height="15.0"/><rect x="336.00" y="862.00" width="15.0" height="15.0"/><rect x="338.00" y="1066.00" width="15.0" height="15.0"/><rect x="341.00" y="715.00" width="15.0" height="15.0"/><rect x="344.00" y="936.00" width="15.0" height="15.0"/><rect x="347.00" y="1121.00" width="15.0" height="15.0"/><rect x="350.00" y="770.00" width="15.0" height="15.0"/><rect x="352.00" y="955.00" width="15.0" height="15.0"/><rect x="355.00" y="1176.00" width="15.0" height="15.0"/><rect x="358.00" y="825.00" width="15.0" height="15.0"/><rect x="361.00" y="1029.00" width="15.0" height="15.0"/><rect x="363.00" y="678.00" width="15.0" height="15.0"/><rect x="366.00" y="899.00" width="15.0" height="15.0"/><rect x="369.00" y="1102.00" width="15.0" height="15.0"/><rect x="372.00" y="752.00" width="15.0" height="15.0"/><rect x="374.00" y="936.00" width="15.0" height="15.0"/><rect x="377.00" y="1139.00" width="15.0" height="15.0"/><rect x="380.00" y="788.00" width="15.0" height="15.0"/><rect x="383.00" y="992.00" width="15.0" height="15.0"/><rect x="385.00" y="1195.00" width="15.0" height="15.0"/><rect x="388.00" y="862.00" width="15.0" height="15.0"/><rect x="391.00" y="1066.00" width="15.0" height="15.0"/><rect x="394.00" y="715.00" width="15.0" height="15.0"/><rect x="397.00" y="918.00" width="15.0" height="15.0"/><rect x="399.00" y="1121.00" width="15.0" height="15.0"/><rect x="402.00" y="770.00" width="15.0" height="15.0"/><rect x="405.00" y="973.00" width="15.0" height="15.0"/><rect x="408.00" y="1158.00" width="15.0" height="15.0"/><rect x="410.00" y="844.00" width="15.0" height="15.0"/><rect x="413.00" y="1047.00" width="15.0" height="15.0"/><rect x="416.00" y="696.00" width="15.0" height="15.0"/><rect x="419.00" y="899.00" width="15.0" height="15.0"/><rect x="421.00" y="1102.00" width="15.0" height="15.0"/><rect x="424.00" y="752.00" width="15.0" height="15.0"/><rect x="427.00" y="936.00" width="15.0" height="15.0"/><rect x="430.00" y="1139.00" width="15.0" height="15.0"/><rect x="432.00" y="807.00" width="15.0" height="15.0"/><rect x="435.00" y="1010.00" width="15.0" height="15.0"/><rect x="438.00" y="1213.00" width="15.0" height="15.0"/><rect x="441.00" y="862.00" width="15.0" height="15.0"/><rect x="444.00" y="1084.00" width="15.0" height="15.0"/><rect x="446.00" y="733.00" width="15.0" height="15.0"/><rect x="449.00" y="918.00" width="15.0" height="15.0"/><rect x="452.00" y="1102.00" width="15.0" height="15.0"/><rect x="455.00" y="770.00" width="15.0" height="15.0"/><rect x="457.00" y="973.00" width="15.0" height="15.0"/><rect x="460.00" y="1176.00" width="15.0" height="15.0"/><rect x="463.00" y="825.00" width="15.0" height="15.0"/><rect x="466.00" y="1047.00" width="15.0" height="15.0"/><rect x="468.00" y="696.00" width="15.0" height="15.0"/><rect x="471.00" y="899.00" width="15.0" height="15.0"/><rect x="474.00" y="1084.00" width="15.0" height="15.0"/><rect x="477.00" y="752.00" width="15.0" height="15.0"/><rect x="479.00" y="936.00" width="15.0" height="15.0"/><rect x="482.00" y="1139.00" width="15.0" height="15.0"/><rect x="485.00" y="788.00" width="15.0" height="15.0"/><rect x="488.00" y="1010.00" width="15.0" height="15.0"/><rect x="491.00" y="1213.00" width="15.0" height="15.0"/><rect x="493.00" y="862.00" width="15.0" height="15.0"/><rect x="496.00" y="1066.00" width="15.0" height="15.0"/><rect x="499.00" y="733.00" width="15.0" height="15.0"/><rect x="502.00" y="918.00" width="15.0" height="15.0"/><rect x="504.00" y="1102.00" width="15.0" height="15.0"/><rect x="507.00" y="770.00" width="15.0" height="15.0"/><rect x="510.00" y="992.00" width="15.0" height="15.0"/><rect x="513.00" y="1195.00" width="15.0" height="15.0"/><rect x="515.00" y="844.00" width="15.0" height="15.0"/><rect x="518.00" y="1029.00" width="15.0" height="15.0"/><rect x="521.00" y="696.00" width="15.0" height="15.0"/><rect x="524.00" y="899.00" width="15.0" height="15.0"/><rect x="526.00" y="1084.00" width="15.0" height="15.0"/><rect x="529.00" y="733.00" width="15.0" height="15.0"/><rect x="532.00" y="955.00" width="15.0" height="15.0"/><rect x="535.00" y="1158.00" width="15.0" height="15.0"/><rect x="538.00" y="807.00" width="15.0" height="15.0"/><rect x="540.00" y="1010.00" width="15.0" height="15.0"/><rect x="543.00" y="1213.00" width="15.0" height="15.0"/><rect x="546.00" y="862.00" width="15.0" height="15.0"/><rect x="549.00" y="1066.00" width="15.0" height="15.0"/><rect x="551.00" y="696.00" width="15.0" height="15.0"/><rect x="554.00" y="918.00" width="15.0" height="15.0"/><rect x="557.00" y="1121.00" width="15.0" height="15.0"/><rect x="560.00" y="770.00" width="15.0" height="15.0"/><rect x="562.00" y="973.00" width="15.0" height="15.0"/><rect x="565.00" y="1176.00" width="15.0" height="15.0"/><rect x="568.00" y="825.00" width="15.0" height="15.0"/><rect x="571.00" y="1010.00" width="15.0" height="15.0"/><rect x="573.00" y="659.00" width="15.0" height="15.0"/><rect x="576.00" y="881.00" width="15.0" height="15.0"/><rect x="579.00" y="1066.00" width="15.0" height="15.0"/><rect x="582.00" y="733.00" width="15.0" height="15.0"/><rect x="585.00" y="936.00" width="15.0" height="15.0"/><rect x="587.00" y="1158.00" width="15.0" height="15.0"/><rect x="590.00" y="807.00" width="15.0" height="15.0"/><rect x="593.00" y="992.00" width="15.0" height="15.0"/><rect x="596.00" y="1176.00" width="15.0" height="15.0"/><rect x="598.00" y="844.00" width="15.0" height="15.0"/><rect x="601.00" y="1047.00" width="15.0" height="15.0"/><rect x="604.00" y="696.00" width="15.0" height="15.0"/><rect x="607.00" y="899.00" width="15.0" height="15.0"/><rect x="609.00" y="1121.00" width="15.0" height="15.0"/><rect x="612.00" y="770.00" width="15.0" height="15.0"/><rect x="615.00" y="973.00" width="15.0" height="15.0"/><rect x="618.00" y="1158.00" width="15.0" height="15.0"/><rect x="620.00" y="825.00" width="15.0" height="15.0"/><rect x="623.00" y="1010.00" width="15.0" height="15.0"/><rect x="626.00" y="659.00" width="15.0" height="15.0"/><rect x="629.00" y="862.00" width="15.0" height="15.0"/><rect x="632.00" y="1084.00" width="15.0" height="15.0"/><rect x="634.00" y="733.00" width="15.0" height="15.0"/><rect x="637.00" y="936.00" width="15.0" height="15.0"/><rect x="640.00" y="1139.00" width="15.0" height="15.0"/><rect x="643.00" y="807.00" width="15.0" height="15.0"/><rect x="645.00" y="992.00" width="15.0" height="15.0"/><rect x="648.00" y="1176.00" width="15.0" height="15.0"/><rect x="651.00" y="825.00" width="15.0" height="15.0"/><rect x="654.00" y="1047.00" width="15.0" height="15.0"/><rect x="656.00" y="696.00" width="15.0" height="15.0"/><rect x="659.00" y="899.00" width="15.0" height="15.0"/><rect x="662.00" y="1102.00" width="15.0" height="15.0"/><rect x="665.00" y="770.00" width="15.0" height="15.0"/><rect x="667.00" y="973.00" width="15.0" height="15.0"/><rect x="670.00" y="1158.00" width="15.0" height="15.0"/><rect x="673.00" y="807.00" width="15.0" height="15.0"/><rect x="676.00" y="1010.00" width="15.0" height="15.0"/><rect x="679.00" y="678.00" width="15.0" height="15.0"/><rect x="681.00" y="881.00" width="15.0" height="15.0"/><rect x="684.00" y="1084.00" width="15.0" height="15.0"/><rect x="687.00" y="752.00" width="15.0" height="15.0"/><rect x="690.00" y="936.00" width="15.0" height="15.0"/><rect x="692.00" y="1139.00" width="15.0" height="15.0"/><rect x="695.00" y="788.00" width="15.0" height="15.0"/><rect x="698.00" y="992.00" width="15.0" height="15.0"/><rect x="701.00" y="1195.00" width="15.0" height="15.0"/><rect x="703.00" y="844.00" width="15.0" height="15.0"/><rect x="706.00" y="1047.00" width="15.0" height="15.0"/><rect x="709.00" y="715.00" width="15.0" height="15.0"/><rect x="712.00" y="918.00" width="15.0" height="15.0"/><rect x="714.00" y="1102.00" width="15.0" height="15.0"/><rect x="717.00" y="752.00" width="15.0" height="15.0"/><rect x="720.00" y="973.00" width="15.0" height="15.0"/><rect x="723.00" y="1158.00" width="15.0" height="15.0"/><rect x="726.00" y="807.00" width="15.0" height="15.0"/><rect x="728.00" y="1010.00" width="15.0" height="15.0"/><rect x="731.00" y="678.00" width="15.0" height="15.0"/><rect x="734.00" y="881.00" width="15.0" height="15.0"/><rect x="737.00" y="1084.00" width="15.0" height="15.0"/><rect x="739.00" y="733.00" width="15.0" height="15.0"/><rect x="742.00" y="936.00" width="15.0" height="15.0"/><rect x="745.00" y="1139.00" width="15.0" height="15.0"/><rect x="748.00" y="788.00" width="15.0" height="15.0"/><rect x="750.00" y="973.00" width="15.0" height="15.0"/><rect x="753.00" y="1195.00" width="15.0" height="15.0"/><rect x="756.00" y="862.00" width="15.0" height="15.0"/><rect x="759.00" y="1066.00" width="15.0" height="15.0"/><rect x="761.00" y="715.00" width="15.0" height="15.0"/><rect x="764.00" y="918.00" width="15.0" height="15.0"/><rect x="767.00" y="1102.00" width="15.0" height="15.0"/><rect x="770.00" y="752.00" width="15.0" height="15.0"/><rect x="773.00" y="955.00" width="15.0" height="15.0"/><rect x="775.00" y="1176.00" width="15.0" height="15.0"/><rect x="778.00" y="825.00" width="15.0" height="15.0"/><rect x="781.00" y="1029.00" width="15.0" height="15.0"/><rect x="784.00" y="678.00" width="15.0" height="15.0"/><rect x="786.00" y="899.00" width="15.0" height="15.0"/><rect x="789.00" y="1084.00" width="15.0" height="15.0"/><rect x="792.00" y="733.00" width="15.0" height="15.0"/><rect x="795.00" y="918.00" width="15.0" height="15.0"/><rect x="797.00" y="1139.00" width="15.0" height="15.0"/><rect x="800.00" y="788.00" width="15.0" height="15.0"/><rect x="803.00" y="992.00" width="15.0" height="15.0"/><rect x="806.00" y="1195.00" width="15.0" height="15.0"/><rect x="808.00" y="862.00" width="15.0" height="15.0"/><rect x="811.00" y="1066.00" width="15.0" height="15.0"/><rect x="814.00" y="715.00" width="15.0" height="15.0"/><rect x="817.00" y="899.00" width="15.0" height="15.0"/><rect x="820.00" y="1102.00" width="15.0" height="15.0"/><rect x="822.00" y="752.00" width="15.0" height="15.0"/><rect x="825.00" y="955.00" width="15.0" height="15.0"/><rect x="828.00" y="1158.00" width="15.0" height="15.0"/><rect x="831.00" y="844.00" width="15.0" height="15.0"/><rect x="833.00" y="1029.00" width="15.0" height="15.0"/><rect x="836.00" y="678.00" width="15.0" height="15.0"/><rect x="839.00" y="881.00" width="15.0" height="15.0"/><rect x="842.00" y="1066.00" width="15.0" height="15.0"/><rect x="844.00" y="715.00" width="15.0" height="15.0"/><rect x="847.00" y="899.00" width="15.0" height="15.0"/><rect x="850.00" y="1102.00" width="15.0" height="15.0"/><rect x="853.00" y="788.00" width="15.0" height="15.0"/><rect x="855.00" y="992.00" width="15.0" height="15.0"/><rect x="858.00" y="1176.00" width="15.0" height="15.0"/><rect x="861.00" y="825.00" width="15.0" height="15.0"/><rect x="864.00" y="1047.00" width="15.0" height="15.0"/><rect x="867.00" y="696.00" width="15.0" height="15.0"/><rect x="869.00" y="881.00" width="15.0" height="15.0"/><rect x="872.00" y="1084.00" width="15.0" height="15.0"/><rect x="875.00" y="752.00" width="15.0" height="15.0"/><rect x="878.00" y="955.00" width="15.0" height="15.0"/><rect x="880.00" y="1158.00" width="15.0" height="15.0"/><rect x="883.00" y="807.00" width="15.0" height="15.0"/><rect x="886.00" y="1029.00" width="15.0" height="15.0"/><rect x="889.00" y="659.00" width="15.0" height="15.0"/><rect x="891.00" y="862.00" width="15.0" height="15.0"/><rect x="894.00" y="1047.00" width="15.0" height="15.0"/><rect x="897.00" y="715.00" width="15.0" height="15.0"/><rect x="900.00" y="918.00" width="15.0" height="15.0"/><rect x="902.00" y="1121.00" width="15.0" height="15.0"/><rect x="905.00" y="770.00" width="15.0" height="15.0"/><rect x="908.00" y="992.00" width="15.0" height="15.0"/><rect x="911.00" y="1195.00" width="15.0" height="15.0"/><rect x="914.00" y="825.00" width="15.0" height="15.0"/><rect x="916.00" y="1029.00" width="15.0" height="15.0"/><rect x="919.00" y="696.00" width="15.0" height="15.0"/><rect x="922.00" y="881.00" width="15.0" height="15.0"/><rect x="925.00" y="1084.00" width="15.0" height="15.0"/><rect x="927.00" y="752.00" width="15.0" height="15.0"/><rect x="930.00" y="973.00" width="15.0" height="15.0"/><rect x="933.00" y="1158.00" width="15.0" height="15.0"/><rect x="936.00" y="807.00" width="15.0" height="15.0"/><rect x="938.00" y="992.00" width="15.0" height="15.0"/><rect x="941.00" y="659.00" width="15.0" height="15.0"/><rect x="944.00" y="862.00" width="15.0" height="15.0"/><rect x="947.00" y="1066.00" width="15.0" height="15.0"/><rect x="949.00" y="715.00" width="15.0" height="15.0"/><rect x="952.00" y="936.00" width="15.0" height="15.0"/><rect x="955.00" y="1139.00" width="15.0" height="15.0"/><rect x="958.00" y="788.00" width="15.0" height="15.0"/><rect x="961.00" y="973.00" width="15.0" height="15.0"/><rect x="963.00" y="1176.00" width="15.0" height="15.0"/><rect x="966.00" y="825.00" width="15.0" height="15.0"/><rect x="969.00" y="1029.00" width="15.0" height="15.0"/><rect x="972.00" y="678.00" width="15.0" height="15.0"/><rect x="974.00" y="899.00" width="15.0" height="15.0"/><rect x="977.00" y="1102.00" width="15.0" height="15.0"/><rect x="980.00" y="752.00" width="15.0" height="15.0"/><rect x="983.00" y="955.00" width="15.0" height="15.0"/><rect x="985.00" y="1158.00" width="15.0" height="15.0"/><rect x="988.00" y="807.00" width="15.0" height="15.0"/><rect x="991.00" y="992.00" width="15.0" height="15.0"/><rect x="994.00" y="641.00" width="15.0" height="15.0"/><rect x="996.00" y="862.00" width="15.0" height="15.0"/><rect x="999.00" y="1066.00" width="15.0" height="15.0"/><rect x="1002.00" y="733.00" width="15.0" height="15.0"/><rect x="1005.00" y="918.00" width="15.0" height="15.0"/><rect x="1008.00" y="1139.00" width="15.0" height="15.0"/><rect x="1010.00" y="788.00" width="15.0" height="15.0"/><rect x="1013.00" y="973.00" width="15.0" height="15.0"/><rect x="1016.00" y="1158.00" width="15.0" height="15.0"/><rect x="1019.00" y="844.00" width="15.0" height="15.0"/><rect x="1021.00" y="1029.00" width="15.0" height="15.0"/><rect x="1024.00" y="696.00" width="15.0" height="15.0"/><rect x="1027.00" y="899.00" width="15.0" height="15.0"/><rect x="1030.00" y="1121.00" width="15.0" height="15.0"/><rect x="1032.00" y="770.00" width="15.0" height="15.0"/><rect x="1035.00" y="955.00" width="15.0" height="15.0"/><rect x="1038.00" y="1139.00" width="15.0" height="15.0"/><rect x="1041.00" y="807.00" width="15.0" height="15.0"/><rect x="1043.00" y="1010.00" width="15.0" height="15.0"/><rect x="1046.00" y="659.00" width="15.0" height="15.0"/><rect x="1049.00" y="862.00" width="15.0" height="15.0"/><rect x="1052.00" y="1084.00" width="15.0" height="15.0"/><rect x="1055.00" y="733.00" width="15.0" height="15.0"/><rect x="1057.00" y="936.00" width="15.0" height="15.0"/><rect x="1060.00" y="1121.00" width="15.0" height="15.0"/><rect x="1063.00" y="788.00" width="15.0" height="15.0"/><rect x="1066.00" y="973.00" width="15.0" height="15.0"/><rect x="1068.00" y="1176.00" width="15.0" height="15.0"/><rect x="1071.00" y="825.00" width="15.0" height="15.0"/><rect x="1074.00" y="1047.00" width="15.0" height="15.0"/><rect x="1077.00" y="696.00" width="15.0" height="15.0"/><rect x="1079.00" y="899.00" width="15.0" height="15.0"/><rect x="1082.00" y="1102.00" width="15.0" height="15.0"/><rect x="1085.00" y="752.00" width="15.0" height="15.0"/><rect x="1088.00" y="955.00" width="15.0" height="15.0"/><rect x="1090.00" y="1139.00" width="15.0" height="15.0"/><rect x="1093.00" y="788.00" width="15.0" height="15.0"/><rect x="1096.00" y="1010.00" width="15.0" height="15.0"/><rect x="1099.00" y="678.00" width="15.0" height="15.0"/><rect x="1102.00" y="881.00" width="15.0" height="15.0"/><rect x="1104.00" y="1066.00" width="15.0" height="15.0"/><rect x="1107.00" y="733.00" width="15.0" height="15.0"/><rect x="1110.00" y="918.00" width="15.0" height="15.0"/><rect x="1113.00" y="1121.00" width="15.0" height="15.0"/><rect x="1115.00" y="770.00" width="15.0" height="15.0"/><rect x="1118.00" y="973.00" width="15.0" height="15.0"/><rect x="1121.00" y="1176.00" width="15.0" height="15.0"/><rect x="1124.00" y="825.00" width="15.0" height="15.0"/><rect x="1126.00" y="1029.00" width="15.0" height="15.0"/><rect x="1129.00" y="696.00" width="15.0" height="15.0"/><rect x="1132.00" y="881.00" width="15.0" height="15.0"/><rect x="1135.00" y="1066.00" width="15.0" height="15.0"/><rect x="1137.00" y="715.00" width="15.0" height="15.0"/><rect x="1140.00" y="936.00" width="15.0" height="15.0"/><rect x="1143.00" y="1139.00" width="15.0" height="15.0"/><rect x="1146.00" y="788.00" width="15.0" height="15.0"/><rect x="1149.00" y="992.00" width="15.0" height="15.0"/><rect x="1151.00" y="659.00" width="15.0" height="15.0"/><rect x="1154.00" y="862.00" width="15.0" height="15.0"/><rect x="1157.00" y="1047.00" width="15.0" height="15.0"/><rect x="1160.00" y="696.00" width="15.0" height="15.0"/><rect x="1162.00" y="899.00" width="15.0" height="15.0"/><rect x="1165.00" y="1102.00" width="15.0" height="15.0"/><rect x="1168.00" y="752.00" width="15.0" height="15.0"/><rect x="1171.00" y="955.00" width="15.0" height="15.0"/><rect x="1173.00" y="1176.00" width="15.0" height="15.0"/><rect x="1176.00" y="825.00" width="15.0" height="15.0"/><rect x="1179.00" y="1029.00" width="15.0" height="15.0"/><rect x="1182.00" y="678.00" width="15.0" height="15.0"/><rect x="1184.00" y="881.00" width="15.0" height="15.0"/><rect x="1187.00" y="1066.00" width="15.0" height="15.0"/><rect x="1190.00" y="733.00" width="15.0" height="15.0"/><rect x="1193.00" y="918.00" width="15.0" height="15.0"/><rect x="1196.00" y="1158.00" width="15.0" height="15.0"/><rect x="1198.00" y="807.00" width="15.0" height="15.0"/><rect x="1201.00" y="1010.00" width="15.0" height="15.0"/><rect x="1204.00" y="659.00" width="15.0" height="15.0"/><rect x="1207.00" y="862.00" width="15.0" height="15.0"/><rect x="1209.00" y="1047.00" width="15.0" height="15.0"/><rect x="1212.00" y="696.00" width="15.0" height="15.0"/><rect x="1215.00" y="899.00" width="15.0" height="15.0"/><rect x="1218.00" y="1121.00" width="15.0" height="15.0"/><rect x="1220.00" y="770.00" width="15.0" height="15.0"/><rect x="1223.00" y="973.00" width="15.0" height="15.0"/><rect x="1226.00" y="1176.00" width="15.0" height="15.0"/><rect x="1229.00" y="844.00" width="15.0" height="15.0"/><rect x="1231.00" y="1029.00" width="15.0" height="15.0"/><rect x="1234.00" y="678.00" width="15.0" height="15.0"/><rect x="1237.00" y="862.00" width="15.0" height="15.0"/><rect x="1240.00" y="1084.00" width="15.0" height="15.0"/><rect x="1243.00" y="733.00" width="15.0" height="15.0"/><rect x="1245.00" y="936.00" width="15.0" height="15.0"/><rect x="1248.00" y="1139.00" width="15.0" height="15.0"/><rect x="1251.00" y="807.00" width="15.0" height="15.0"/><rect x="1254.00" y="1010.00" width="15.0" height="15.0"/><rect x="1256.00" y="1195.00" width="15.0" height="15.0"/><rect x="1259.00" y="844.00" width="15.0" height="15.0"/><rect x="1262.00" y="1047.00" width="15.0" height="15.0"/><rect x="1265.00" y="696.00" width="15.0" height="15.0"/><rect x="1267.00" y="899.00" width="15.0" height="15.0"/><rect x="1270.00" y="1102.00" width="15.0" height="15.0"/><rect x="1273.00" y="788.00" width="15.0" height="15.0"/><rect x="1276.00" y="973.00" width="15.0" height="15.0"/><rect x="1278.00" y="1176.00" width="15.0" height="15.0"/><rect x="1281.00" y="807.00" width="15.0" height="15.0"/><rect x="1284.00" y="1029.00" width="15.0" height="15.0"/><rect x="1287.00" y="678.00" width="15.0" height="15.0"/><rect x="1290.00" y="881.00" width="15.0" height="15.0"/><rect x="1292.00" y="1084.00" width="15.0" height="15.0"/><rect x="1295.00" y="752.00" width="15.0" height="15.0"/><rect x="1298.00" y="955.00" width="15.0" height="15.0"/><rect x="1301.00" y="1139.00" width="15.0" height="15.0"/><rect x="1303.00" y="788.00" width="15.0" height="15.0"/><rect x="1306.00" y="992.00" width="15.0" height="15.0"/><rect x="1309.00" y="1195.00" width="15.0" height="15.0"/><rect x="1312.00" y="844.00" width="15.0" height="15.0"/><rect x="1314.00" y="1047.00" width="15.0" height="15.0"/><rect x="1317.00" y="715.00" width="15.0" height="15.0"/><rect x="1320.00" y="918.00" width="15.0" height="15.0"/><rect x="1323.00" y="1121.00" width="15.0" height="15.0"/><rect x="1325.00" y="770.00" width="15.0" height="15.0"/><rect x="1328.00" y="973.00" width="15.0" height="15.0"/><rect x="1331.00" y="1176.00" width="15.0" height="15.0"/><rect x="1334.00" y="807.00" width="15.0" height="15.0"/><rect x="1337.00" y="1010.00" width="15.0" height="15.0"/><rect x="1339.00" y="678.00" width="15.0" height="15.0"/><rect x="1342.00" y="881.00" width="15.0" height="15.0"/><rect x="1345.00" y="1084.00" width="15.0" height="15.0"/><rect x="1348.00" y="733.00" width="15.0" height="15.0"/><rect x="1350.00" y="955.00" width="15.0" height="15.0"/><rect x="1353.00" y="1139.00" width="15.0" height="15.0"/><rect x="1356.00" y="788.00" width="15.0" height="15.0"/><rect x="1359.00" y="973.00" width="15.0" height="15.0"/><rect x="1361.00" y="1195.00" width="15.0" height="15.0"/><rect x="1364.00" y="844.00" width="15.0" height="15.0"/><rect x="1367.00" y="1066.00" width="15.0" height="15.0"/><rect x="1370.00" y="715.00" width="15.0" height="15.0"/><rect x="1372.00" y="936.00" width="15.0" height="15.0"/><rect x="1375.00" y="1121.00" width="15.0" height="15.0"/><rect x="1378.00" y="770.00" width="15.0" height="15.0"/><rect x="1381.00" y="955.00" width="15.0" height="15.0"/><rect x="1384.00" y="1176.00" width="15.0" height="15.0"/><rect x="1386.00" y="825.00" width="15.0" height="15.0"/><rect x="1389.00" y="1029.00" width="15.0" height="15.0"/><rect x="1392.00" y="678.00" width="15.0" height="15.0"/><rect x="1395.00" y="899.00" width="15.0" height="15.0"/><rect x="1397.00" y="1102.00" width="15.0" height="15.0"/><rect x="1400.00" y="752.00" width="15.0" height="15.0"/><rect x="1403.00" y="936.00" width="15.0" height="15.0"/><rect x="1406.00" y="1139.00" width="15.0" height="15.0"/><rect x="1408.00" y="788.00" width="15.0" height="15.0"/><rect x="1411.00" y="992.00" width="15.0" height="15.0"/><rect x="1414.00" y="1195.00" width="15.0" height="15.0"/><rect x="1417.00" y="862.00" width="15.0" height="15.0"/><rect x="1419.00" y="1066.00" width="15.0" height="15.0"/><rect x="1422.00" y="715.00" width="15.0" height="15.0"/><rect x="1425.00" y="918.00" width="15.0" height="15.0"/><rect x="1428.00" y="1121.00" width="15.0" height="15.0"/><rect x="1431.00" y="770.00" width="15.0" height="15.0"/><rect x="1433.00" y="955.00" width="15.0" height="15.0"/><rect x="1436.00" y="1158.00" width="15.0" height="15.0"/><rect x="1439.00" y="825.00" width="15.0" height="15.0"/><rect x="1442.00" y="1029.00" width="15.0" height="15.0"/><rect x="1444.00" y="696.00" width="15.0" height="15.0"/><rect x="1447.00" y="881.00" width="15.0" height="15.0"/><rect x="1450.00" y="1102.00" width="15.0" height="15.0"/><rect x="1453.00" y="752.00" width="15.0" height="15.0"/><rect x="1455.00" y="936.00" width="15.0" height="15.0"/><rect x="1458.00" y="1121.00" width="15.0" height="15.0"/><rect x="1461.00" y="807.00" width="15.0" height="15.0"/><rect x="1464.00" y="1010.00" width="15.0" height="15.0"/><rect x="1466.00" y="1213.00" width="15.0" height="15.0"/><rect x="1469.00" y="862.00" width="15.0" height="15.0"/><rect x="1472.00" y="1066.00" width="15.0" height="15.0"/><rect x="1475.00" y="715.00" width="15.0" height="15.0"/><rect x="1478.00" y="918.00" width="15.0" height="15.0"/><rect x="1480.00" y="1102.00" width="15.0" height="15.0"/><rect x="1483.00" y="770.00" width="15.0" height="15.0"/><rect x="1486.00" y="973.00" width="15.0" height="15.0"/><rect x="1489.00" y="1176.00" width="15.0" height="15.0"/><rect x="1491.00" y="825.00" width="15.0" height="15.0"/><rect x="1494.00" y="1047.00" width="15.0" height="15.0"/><rect x="1497.00" y="696.00" width="15.0" height="15.0"/><rect x="1500.00" y="881.00" width="15.0" height="15.0"/><rect x="1502.00" y="1084.00" width="15.0" height="15.0"/><rect x="1505.00" y="733.00" width="15.0" height="15.0"/><rect x="1508.00" y="936.00" width="15.0" height="15.0"/><rect x="1511.00" y="1139.00" width="15.0" height="15.0"/><rect x="1514.00" y="788.00" width="15.0" height="15.0"/><rect x="1516.00" y="1010.00" width="15.0" height="15.0"/><rect x="1519.00" y="1213.00" width="15.0" height="15.0"/><rect x="1522.00" y="862.00" width="15.0" height="15.0"/><rect x="1525.00" y="1047.00" width="15.0" height="15.0"/><rect x="1527.00" y="715.00" width="15.0" height="15.0"/><rect x="1530.00" y="918.00" width="15.0" height="15.0"/><rect x="1533.00" y="1102.00" width="15.0" height="15.0"/><rect x="1536.00" y="770.00" width="15.0" height="15.0"/><rect x="1538.00" y="992.00" width="15.0" height="15.0"/><rect x="1541.00" y="1195.00" width="15.0" height="15.0"/><rect x="1544.00" y="844.00" width="15.0" height="15.0"/><rect x="1547.00" y="1029.00" width="15.0" height="15.0"/><rect x="1549.00" y="696.00" width="15.0" height="15.0"/><rect x="1552.00" y="881.00" width="15.0" height="15.0"/><rect x="1555.00" y="1084.00" width="15.0" height="15.0"/><rect x="1558.00" y="733.00" width="15.0" height="15.0"/><rect x="1561.00" y="955.00" width="15.0" height="15.0"/><rect x="1563.00" y="1158.00" width="15.0" height="15.0"/><rect x="1566.00" y="807.00" width="15.0" height="15.0"/><rect x="1569.00" y="1010.00" width="15.0" height="15.0"/><rect x="1572.00" y="1213.00" width="15.0" height="15.0"/><rect x="1574.00" y="862.00" width="15.0" height="15.0"/><rect x="1577.00" y="1047.00" width="15.0" height="15.0"/><rect x="1580.00" y="696.00" width="15.0" height="15.0"/><rect x="1583.00" y="918.00" width="15.0" height="15.0"/><rect x="1585.00" y="1121.00" width="15.0" height="15.0"/><rect x="1588.00" y="770.00" width="15.0" height="15.0"/><rect x="1591.00" y="973.00" width="15.0" height="15.0"/><rect x="1594.00" y="1195.00" width="15.0" height="15.0"/><rect x="1596.00" y="844.00" width="15.0" height="15.0"/><rect x="1599.00" y="1029.00" width="15.0" height="15.0"/><rect x="1602.00" y="678.00" width="15.0" height="15.0"/><rect x="1605.00" y="881.00" width="15.0" height="15.0"/><rect x="1608.00" y="1084.00" width="15.0" height="15.0"/><rect x="1610.00" y="733.00" width="15.0" height="15.0"/><rect x="1613.00" y="936.00" width="15.0" height="15.0"/><rect x="1616.00" y="1158.00" width="15.0" height="15.0"/><rect x="1619.00" y="807.00" width="15.0" height="15.0"/><rect x="1621.00" y="1010.00" width="15.0" height="15.0"/><rect x="1624.00" y="1195.00" width="15.0" height="15.0"/><rect x="1627.00" y="862.00" width="15.0" height="15.0"/><rect x="1630.00" y="1047.00" width="15.0" height="15.0"/><rect x="1632.00" y="715.00" width="15.0" height="15.0"/><rect x="1635.00" y="918.00" width="15.0" height="15.0"/><rect x="1638.00" y="1139.00" width="15.0" height="15.0"/><rect x="1641.00" y="788.00" width="15.0" height="15.0"/><rect x="1643.00" y="973.00" width="15.0" height="15.0"/><rect x="1646.00" y="1176.00" width="15.0" height="15.0"/><rect x="1649.00" y="844.00" width="15.0" height="15.0"/><rect x="1652.00" y="1029.00" width="15.0" height="15.0"/><rect x="1655.00" y="678.00" width="15.0" height="15.0"/><rect x="1657.00" y="881.00" width="15.0" height="15.0"/><rect x="1660.00" y="1102.00" width="15.0" height="15.0"/><rect x="1663.00" y="752.00" width="15.0" height="15.0"/><rect x="1666.00" y="955.00" width="15.0" height="15.0"/><rect x="1668.00" y="1139.00" width="15.0" height="15.0"/><rect x="1671.00" y="788.00" width="15.0" height="15.0"/><rect x="1674.00" y="992.00" width="15.0" height="15.0"/><rect x="1677.00" y="1176.00" width="15.0" height="15.0"/><rect x="1679.00" y="825.00" width="15.0" height="15.0"/><rect x="1682.00" y="1047.00" width="15.0" height="15.0"/><rect x="1685.00" y="696.00" width="15.0" height="15.0"/><rect x="1688.00" y="899.00" width="15.0" height="15.0"/><rect x="1690.00" y="1102.00" width="15.0" height="15.0"/><rect x="1693.00" y="770.00" width="15.0" height="15.0"/><rect x="1696.00" y="955.00" width="15.0" height="15.0"/><rect x="1699.00" y="1158.00" width="15.0" height="15.0"/><rect x="1702.00" y="807.00" width="15.0" height="15.0"/><rect x="1704.00" y="1010.00" width="15.0" height="15.0"/><rect x="1707.00" y="678.00" width="15.0" height="15.0"/><rect x="1710.00" y="881.00" width="15.0" height="15.0"/><rect x="1713.00" y="1084.00" width="15.0" height="15.0"/><rect x="1715.00" y="752.00" width="15.0" height="15.0"/><rect x="1718.00" y="936.00" width="15.0" height="15.0"/><rect x="1721.00" y="1121.00" width="15.0" height="15.0"/><rect x="1724.00" y="770.00" width="15.0" height="15.0"/><rect x="1726.00" y="992.00" width="15.0" height="15.0"/><rect x="1729.00" y="1195.00" width="15.0" height="15.0"/><rect x="1732.00" y="844.00" width="15.0" height="15.0"/><rect x="1735.00" y="1047.00" width="15.0" height="15.0"/><rect x="1737.00" y="715.00" width="15.0" height="15.0"/><rect x="1740.00" y="918.00" width="15.0" height="15.0"/><rect x="1743.00" y="1102.00" width="15.0" height="15.0"/><rect x="1746.00" y="752.00" width="15.0" height="15.0"/><rect x="1749.00" y="955.00" width="15.0" height="15.0"/><rect x="1751.00" y="1158.00" width="15.0" height="15.0"/><rect x="1754.00" y="807.00" width="15.0" height="15.0"/><rect x="1757.00" y="1010.00" width="15.0" height="15.0"/><rect x="1760.00" y="678.00" width="15.0" height="15.0"/><rect x="1762.00" y="881.00" width="15.0" height="15.0"/><rect x="1765.00" y="1084.00" width="15.0" height="15.0"/><rect x="1768.00" y="733.00" width="15.0" height="15.0"/><rect x="1771.00" y="936.00" width="15.0" height="15.0"/><rect x="1773.00" y="1121.00" width="15.0" height="15.0"/><rect x="1776.00" y="770.00" width="15.0" height="15.0"/><rect x="1779.00" y="973.00" width="15.0" height="15.0"/><rect x="1782.00" y="1195.00" width="15.0" height="15.0"/><rect x="1784.00" y="844.00" width="15.0" height="15.0"/><rect x="1787.00" y="1047.00" width="15.0" height="15.0"/><rect x="1790.00" y="696.00" width="15.0" height="15.0"/><rect x="1793.00" y="918.00" width="15.0" height="15.0"/><rect x="1796.00" y="1102.00" width="15.0" height="15.0"/><rect x="1798.00" y="752.00" width="15.0" height="15.0"/><rect x="1801.00" y="936.00" width="15.0" height="15.0"/><rect x="1804.00" y="1158.00" width="15.0" height="15.0"/><rect x="1807.00" y="825.00" width="15.0" height="15.0"/><rect x="1809.00" y="1029.00" width="15.0" height="15.0"/><rect x="1812.00" y="678.00" width="15.0" height="15.0"/><rect x="1815.00" y="881.00" width="15.0" height="15.0"/><rect x="1818.00" y="1084.00" width="15.0" height="15.0"/><rect x="1820.00" y="733.00" width="15.0" height="15.0"/><rect x="1823.00" y="918.00" width="15.0" height="15.0"/><rect x="1826.00" y="1139.00" width="15.0" height="15.0"/><rect x="1829.00" y="788.00" width="15.0" height="15.0"/><rect x="1831.00" y="992.00" width="15.0" height="15.0"/><rect x="1834.00" y="1195.00" width="15.0" height="15.0"/><rect x="1837.00" y="862.00" width="15.0" height="15.0"/><rect x="1840.00" y="1066.00" width="15.0" height="15.0"/><rect x="1843.00" y="696.00" width="15.0" height="15.0"/><rect x="1845.00" y="899.00" width="15.0" height="15.0"/><rect x="1848.00" y="1102.00" width="15.0" height="15.0"/><rect x="1851.00" y="752.00" width="15.0" height="15.0"/><rect x="1854.00" y="955.00" width="15.0" height="15.0"/><rect x="1856.00" y="1158.00" width="15.0" height="15.0"/><rect x="1859.00" y="825.00" width="15.0" height="15.0"/><rect x="1862.00" y="1029.00" width="15.0" height="15.0"/><rect x="1865.00" y="678.00" width="15.0" height="15.0"/><rect x="1867.00" y="862.00" width="15.0" height="15.0"/><rect x="1870.00" y="1084.00" width="15.0" height="15.0"/><rect x="1873.00" y="733.00" width="15.0" height="15.0"/><rect x="1876.00" y="918.00" width="15.0" height="15.0"/><rect x="1878.00" y="1121.00" width="15.0" height="15.0"/><rect x="1881.00" y="807.00" width="15.0" height="15.0"/><rect x="1884.00" y="1010.00" width="15.0" height="15.0"/><rect x="1887.00" y="1195.00" width="15.0" height="15.0"/><rect x="1890.00" y="844.00" width="15.0" height="15.0"/><rect x="1892.00" y="1047.00" width="15.0" height="15.0"/><rect x="1895.00" y="696.00" width="15.0" height="15.0"/><rect x="1898.00" y="899.00" width="15.0" height="15.0"/><rect x="1901.00" y="1102.00" width="15.0" height="15.0"/><rect x="1903.00" y="770.00" width="15.0" height="15.0"/><rect x="1906.00" y="973.00" width="15.0" height="15.0"/><rect x="1909.00" y="1176.00" width="15.0" height="15.0"/><rect x="1912.00" y="825.00" width="15.0" height="15.0"/><rect x="1914.00" y="1029.00" width="15.0" height="15.0"/><rect x="1917.00" y="678.00" width="15.0" height="15.0"/><rect x="1920.00" y="862.00" width="15.0" height="15.0"/><rect x="1923.00" y="1066.00" width="15.0" height="15.0"/><rect x="1925.00" y="733.00" width="15.0" height="15.0"/><rect x="1928.00" y="936.00" width="15.0" height="15.0"/><rect x="1931.00" y="1139.00" width="15.0" height="15.0"/><rect x="1934.00" y="788.00" width="15.0" height="15.0"/><rect x="1937.00" y="1010.00" width="15.0" height="15.0"/><rect x="1939.00" y="1195.00" width="15.0" height="15.0"/><rect x="1942.00" y="844.00" width="15.0" height="15.0"/><rect x="1945.00" y="1029.00" width="15.0" height="15.0"/><rect x="1948.00" y="678.00" width="15.0" height="15.0"/><rect x="1950.00" y="881.00" width="15.0" height="15.0"/><rect x="1953.00" y="1084.00" width="15.0" height="15.0"/><rect x="1956.00" y="752.00" width="15.0" height="15.0"/><rect x="1959.00" y="955.00" width="15.0" height="15.0"/><rect x="1961.00" y="1158.00" width="15.0" height="15.0"/><rect x="1964.00" y="807.00" width="15.0" height="15.0"/><rect x="1967.00" y="992.00" width="15.0" height="15.0"/><rect x="1970.00" y="659.00" width="15.0" height="15.0"/><rect x="1972.00" y="844.00" width="15.0" height="15.0"/><rect x="1975.00" y="1047.00" width="15.0" height="15.0"/><rect x="1978.00" y="715.00" width="15.0" height="15.0"/><rect x="1981.00" y="936.00" width="15.0" height="15.0"/><rect x="1984.00" y="1139.00" width="15.0" height="15.0"/><rect x="1986.00" y="770.00" width="15.0" height="15.0"/><rect x="1989.00" y="973.00" width="15.0" height="15.0"/><rect x="1992.00" y="1176.00" width="15.0" height="15.0"/><rect x="1995.00" y="825.00" width="15.0" height="15.0"/><rect x="1997.00" y="1029.00" width="15.0" height="15.0"/><rect x="2000.00" y="678.00" width="15.0" height="15.0"/><rect x="2003.00" y="899.00" width="15.0" height="15.0"/><rect x="2006.00" y="1102.00" width="15.0" height="15.0"/><rect x="2008.00" y="752.00" width="15.0" height="15.0"/><rect x="2011.00" y="955.00" width="15.0" height="15.0"/><rect x="2014.00" y="1158.00" width="15.0" height="15.0"/><rect x="2017.00" y="807.00" width="15.0" height="15.0"/><rect x="2019.00" y="992.00" width="15.0" height="15.0"/><rect x="2022.00" y="641.00" width="15.0" height="15.0"/><rect x="2025.00" y="862.00" width="15.0" height="15.0"/><rect x="2028.00" y="1066.00" width="15.0" height="15.0"/><rect x="2031.00" y="715.00" width="15.0" height="15.0"/><rect x="2033.00" y="918.00" width="15.0" height="15.0"/><rect x="2036.00" y="1139.00" width="15.0" height="15.0"/><rect x="2039.00" y="770.00" width="15.0" height="15.0"/><rect x="2042.00" y="973.00" width="15.0" height="15.0"/><rect x="2044.00" y="1158.00" width="15.0" height="15.0"/><rect x="2047.00" y="825.00" width="15.0" height="15.0"/><rect x="2050.00" y="1029.00" width="15.0" height="15.0"/><rect x="2053.00" y="696.00" width="15.0" height="15.0"/><rect x="2055.00" y="899.00" width="15.0" height="15.0"/><rect x="2058.00" y="1102.00" width="15.0" height="15.0"/><rect x="2061.00" y="752.00" width="15.0" height="15.0"/><rect x="2064.00" y="936.00" width="15.0" height="15.0"/><rect x="2066.00" y="1139.00" width="15.0" height="15.0"/><rect x="2069.00" y="807.00" width="15.0" height="15.0"/><rect x="2072.00" y="1010.00" width="15.0" height="15.0"/><rect x="2075.00" y="659.00" width="15.0" height="15.0"/><rect x="2078.00" y="862.00" width="15.0" height="15.0"/><rect x="2080.00" y="1084.00" width="15.0" height="15.0"/><rect x="2083.00" y="733.00" width="15.0" height="15.0"/><rect x="2086.00" y="918.00" width="15.0" height="15.0"/><rect x="2089.00" y="1102.00" width="15.0" height="15.0"/><rect x="2091.00" y="770.00" width="15.0" height="15.0"/><rect x="2094.00" y="973.00" width="15.0" height="15.0"/><rect x="2097.00" y="1176.00" width="15.0" height="15.0"/><rect x="2100.00" y="825.00" width="15.0" height="15.0"/><rect x="2102.00" y="1047.00" width="15.0" height="15.0"/><rect x="2105.00" y="696.00" width="15.0" height="15.0"/><rect x="2108.00" y="899.00" width="15.0" height="15.0"/><rect x="2111.00" y="1084.00" width="15.0" height="15.0"/><rect x="2113.00" y="752.00" width="15.0" height="15.0"/><rect x="2116.00" y="936.00" width="15.0" height="15.0"/><rect x="2119.00" y="1139.00" width="15.0" height="15.0"/><rect x="2122.00" y="788.00" width="15.0" height="15.0"/><rect x="2125.00" y="1010.00" width="15.0" height="15.0"/><rect x="2127.00" y="678.00" width="15.0" height="15.0"/><rect x="2130.00" y="862.00" width="15.0" height="15.0"/><rect x="2133.00" y="1066.00" width="15.0" height="15.0"/><rect x="2136.00" y="733.00" width="15.0" height="15.0"/><rect x="2138.00" y="918.00" width="15.0" height="15.0"/><rect x="2141.00" y="1102.00" width="15.0" height="15.0"/><rect x="2144.00" y="770.00" width="15.0" height="15.0"/><rect x="2147.00" y="973.00" width="15.0" height="15.0"/><rect x="2149.00" y="1195.00" width="15.0" height="15.0"/><rect x="2152.00" y="844.00" width="15.0" height="15.0"/><rect x="2155.00" y="1047.00" width="15.0" height="15.0"/><rect x="2158.00" y="715.00" width="15.0" height="15.0"/><rect x="2160.00" y="899.00" width="15.0" height="15.0"/><rect x="2163.00" y="1084.00" width="15.0" height="15.0"/><rect x="2166.00" y="733.00" width="15.0" height="15.0"/><rect x="2169.00" y="955.00" width="15.0" height="15.0"/><rect x="2172.00" y="1158.00" width="15.0" height="15.0"/><rect x="2174.00" y="807.00" width="15.0" height="15.0"/><rect x="2177.00" y="1010.00" width="15.0" height="15.0"/><rect x="2180.00" y="1232.00" width="15.0" height="15.0"/><rect x="2183.00" y="881.00" width="15.0" height="15.0"/><rect x="2185.00" y="1066.00" width="15.0" height="15.0"/><rect x="2188.00" y="715.00" width="15.0" height="15.0"/><rect x="2191.00" y="918.00" width="15.0" height="15.0"/><rect x="2194.00" y="1121.00" width="15.0" height="15.0"/><rect x="2196.00" y="770.00" width="15.0" height="15.0"/><rect x="2199.00" y="973.00" width="15.0" height="15.0"/><rect x="2202.00" y="1195.00" width="15.0" height="15.0"/><rect x="2205.00" y="844.00" width="15.0" height="15.0"/><rect x="2207.00" y="1047.00" width="15.0" height="15.0"/><rect x="2210.00" y="678.00" width="15.0" height="15.0"/><rect x="2213.00" y="899.00" width="15.0" height="15.0"/><rect x="2216.00" y="1084.00" width="15.0" height="15.0"/><rect x="2219.00" y="733.00" width="15.0" height="15.0"/><rect x="2221.00" y="936.00" width="15.0" height="15.0"/><rect x="2224.00" y="1139.00" width="15.0" height="15.0"/><rect x="2227.00" y="807.00" width="15.0" height="15.0"/><rect x="2230.00" y="992.00" width="15.0" height="15.0"/><rect x="2232.00" y="1195.00" width="15.0" height="15.0"/><rect x="2235.00" y="844.00" width="15.0" height="15.0"/><rect x="2238.00" y="1047.00" width="15.0" height="15.0"/><rect x="2241.00" y="696.00" width="15.0" height="15.0"/><rect x="2243.00" y="899.00" width="15.0" height="15.0"/><rect x="2246.00" y="1121.00" width="15.0" height="15.0"/><rect x="2249.00" y="770.00" width="15.0" height="15.0"/><rect x="2252.00" y="973.00" width="15.0" height="15.0"/><rect x="2254.00" y="1158.00" width="15.0" height="15.0"/><rect x="2257.00" y="825.00" width="15.0" height="15.0"/><rect x="2260.00" y="1010.00" width="15.0" height="15.0"/><rect x="2263.00" y="659.00" width="15.0" height="15.0"/><rect x="2266.00" y="862.00" width="15.0" height="15.0"/><rect x="2268.00" y="1084.00" width="15.0" height="15.0"/><rect x="2271.00" y="733.00" width="15.0" height="15.0"/><rect x="2274.00" y="936.00" width="15.0" height="15.0"/><rect x="2277.00" y="1139.00" width="15.0" height="15.0"/><rect x="2279.00" y="807.00" width="15.0" height="15.0"/><rect x="2282.00" y="992.00" width="15.0" height="15.0"/><rect x="2285.00" y="1195.00" width="15.0" height="15.0"/><rect x="2288.00" y="825.00" width="15.0" height="15.0"/><rect x="2290.00" y="1047.00" width="15.0" height="15.0"/><rect x="2293.00" y="696.00" width="15.0" height="15.0"/><rect x="2296.00" y="899.00" width="15.0" height="15.0"/><rect x="2299.00" y="1102.00" width="15.0" height="15.0"/><rect x="2301.00" y="770.00" width="15.0" height="15.0"/><rect x="2304.00" y="973.00" width="15.0" height="15.0"/><rect x="2307.00" y="1158.00" width="15.0" height="15.0"/><rect x="2310.00" y="807.00" width="15.0" height="15.0"/><rect x="2313.00" y="1010.00" width="15.0" height="15.0"/><rect x="2315.00" y="678.00" width="15.0" height="15.0"/><rect x="2318.00" y="862.00" width="15.0" height="15.0"/><rect x="2321.00" y="1084.00" width="15.0" height="15.0"/><rect x="2324.00" y="752.00" width="15.0" height="15.0"/><rect x="2326.00" y="955.00" width="15.0" height="15.0"/><rect x="2329.00" y="1139.00" width="15.0" height="15.0"/><rect x="2332.00" y="788.00" width="15.0" height="15.0"/><rect x="2335.00" y="992.00" width="15.0" height="15.0"/><rect x="2337.00" y="1195.00" width="15.0" height="15.0"/><rect x="2340.00" y="844.00" width="15.0" height="15.0"/><rect x="2343.00" y="1047.00" width="15.0" height="15.0"/><rect x="2346.00" y="715.00" width="15.0" height="15.0"/><rect x="2348.00" y="918.00" width="15.0" height="15.0"/><rect x="2351.00" y="1121.00" width="15.0" height="15.0"/><rect x="2354.00" y="770.00" width="15.0" height="15.0"/><rect x="2357.00" y="973.00" width="15.0" height="15.0"/><rect x="2360.00" y="1158.00" width="15.0" height="15.0"/><rect x="2362.00" y="807.00" width="15.0" height="15.0"/><rect x="2365.00" y="1010.00" width="15.0" height="15.0"/><rect x="2368.00" y="678.00" width="15.0" height="15.0"/><rect x="2371.00" y="881.00" width="15.0" height="15.0"/><rect x="2373.00" y="1084.00" width="15.0" height="15.0"/><rect x="2376.00" y="733.00" width="15.0" height="15.0"/><rect x="2379.00" y="955.00" width="15.0" height="15.0"/><rect x="2382.00" y="1139.00" width="15.0" height="15.0"/><rect x="2384.00" y="788.00" width="15.0" height="15.0"/><rect x="2387.00" y="973.00" width="15.0" height="15.0"/><rect x="2390.00" y="1195.00" width="15.0" height="15.0"/><rect x="2393.00" y="844.00" width="15.0" height="15.0"/><rect x="2395.00" y="1047.00" width="15.0" height="15.0"/><rect x="2398.00" y="715.00" width="15.0" height="15.0"/><rect x="2401.00" y="918.00" width="15.0" height="15.0"/><rect x="2404.00" y="1121.00" width="15.0" height="15.0"/><rect x="2407.00" y="770.00" width="15.0" height="15.0"/><rect x="2409.00" y="955.00" width="15.0" height="15.0"/><rect x="2412.00" y="1158.00" width="15.0" height="15.0"/><rect x="2415.00" y="825.00" width="15.0" height="15.0"/><rect x="2418.00" y="1029.00" width="15.0" height="15.0"/><rect x="2420.00" y="678.00" width="15.0" height="15.0"/><rect x="2423.00" y="899.00" width="15.0" height="15.0"/><rect x="2426.00" y="1084.00" width="15.0" height="15.0"/><rect x="2429.00" y="733.00" width="15.0" height="15.0"/><rect x="2431.00" y="936.00" width="15.0" height="15.0"/><rect x="2434.00" y="1139.00" width="15.0" height="15.0"/><rect x="2437.00" y="788.00" width="15.0" height="15.0"/><rect x="2440.00" y="992.00" width="15.0" height="15.0"/><rect x="2442.00" y="1195.00" width="15.0" height="15.0"/><rect x="2445.00" y="862.00" width="15.0" height="15.0"/><rect x="2448.00" y="1066.00" width="15.0" height="15.0"/><rect x="2451.00" y="715.00" width="15.0" height="15.0"/><rect x="2454.00" y="899.00" width="15.0" height="15.0"/><rect x="2456.00" y="1121.00" width="15.0" height="15.0"/><rect x="2459.00" y="752.00" width="15.0" height="15.0"/><rect x="2462.00" y="955.00" width="15.0" height="15.0"/><rect x="2465.00" y="1158.00" width="15.0" height="15.0"/><rect x="2467.00" y="825.00" width="15.0" height="15.0"/><rect x="2470.00" y="1029.00" width="15.0" height="15.0"/><rect x="2473.00" y="678.00" width="15.0" height="15.0"/><rect x="2476.00" y="881.00" width="15.0" height="15.0"/><rect x="2478.00" y="1084.00" width="15.0" height="15.0"/><rect x="2481.00" y="733.00" width="15.0" height="15.0"/><rect x="2484.00" y="936.00" width="15.0" height="15.0"/><rect x="2487.00" y="1121.00" width="15.0" height="15.0"/><rect x="2489.00" y="788.00" width="15.0" height="15.0"/><rect x="2492.00" y="1010.00" width="15.0" height="15.0"/><rect x="2495.00" y="1213.00" width="15.0" height="15.0"/><rect x="2498.00" y="862.00" width="15.0" height="15.0"/>
</g>
<rect x="183.5" y="76.5" width="2433.0" height="1219.0" fill="none" stroke="#000" stroke-width="3.33" stroke-linejoin="miter"/>
<g stroke="#000" stroke-width="3.33">
<line x1="293.50" y1="1295.5" x2="293.50" y2="1310.5"/>
<line x1="570.50" y1="1295.5" x2="570.50" y2="1310.5"/>
<line x1="846.50" y1="1295.5" x2="846.50" y2="1310.5"/>
<line x1="1123.50" y1="1295.5" x2="1123.50" y2="1310.5"/>
<line x1="1399.50" y1="1295.5" x2="1399.50" y2="1310.5"/>
<line x1="1676.50" y1="1295.5" x2="1676.50" y2="1310.5"/>
<line x1="1952.50" y1="1295.5" x2="1952.50" y2="1310.5"/>
<line x1="2229.50" y1="1295.5" x2="2229.50" y2="1310.5"/>
<line x1="2505.50" y1="1295.5" x2="2505.50" y2="1310.5"/>
<line x1="183.5" y1="1184.50" x2="168.5" y2="1184.50"/>
<line x1="183.5" y1="999.50" x2="168.5" y2="999.50"/>
<line x1="183.5" y1="814.50" x2="168.5" y2="814.50"/>
<line x1="183.5" y1="630.50" x2="168.5" y2="630.50"/>
<line x1="183.5" y1="445.50" x2="168.5" y2="445.50"/>
<line x1="183.5" y1="260.50" x2="168.5" y2="260.50"/>
<line x1="183.5" y1="76.50" x2="168.5" y2="76.50"/>
</g>
<text x="873.70" y="49.50" font-size="51.11" textLength="1050.04" lengthAdjust="spacingAndGlyphs">Losar / Tsagaan Sar days across traditions</text>
<text x="241.60" y="1356.00" font-size="43.84" textLength="104.17" lengthAdjust="spacingAndGlyphs">2000</text>
<text x="518.10" y="1356.00" font-size="43.84" textLength="104.17" lengthAdjust="spacingAndGlyphs">2100</text>
<text x="794.60" y="1356.00" font-size="43.84" textLength="104.17" lengthAdjust="spacingAndGlyphs">2200</text>
<text x="1071.10" y="1356.00" font-size="43.84" textLength="104.17" lengthAdjust="spacingAndGlyphs">2300</text>
<text x="1347.60" y="1356.00" font-size="43.84" textLength="104.17" lengthAdjust="spacingAndGlyphs">2400</text>
<text x="1624.10" y="1356.00" font-size="43.84" textLength="104.17" lengthAdjust="spacingAndGlyphs">2500</text>
<text x="1900.60" y="1356.00" font-size="43.84" textLength="104.17" lengthAdjust="spacingAndGlyphs">2600</text>
<text x="2177.10" y="1356.00" font-size="43.84" textLength="104.17" lengthAdjust="spacingAndGlyphs">2700</text>
<text x="2453.60" y="1356.00" font-size="43.84" textLength="104.17" lengthAdjust="spacingAndGlyphs">2800</text>
<text x="103.20" y="1200.58" font-size="43.84" textLength="49.25" lengthAdjust="spacingAndGlyphs">40</text>
<text x="103.20" y="1015.90" font-size="43.84" textLength="49.31" lengthAdjust="spacingAndGlyphs">50</text>
<text x="103.20" y="830.22" font-size="43.84" textLength="49.33" lengthAdjust="spacingAndGlyphs">60</text>
<text x="103.20" y="646.54" font-size="43.84" textLength="49.33" lengthAdjust="spacingAndGlyphs">70</text>
<text x="103.20" y="461.86" font-size="43.84" textLength="49.31" lengthAdjust="spacingAndGlyphs">80</text>
<text x="103.20" y="276.18" font-size="43.84" textLength="49.33" lengthAdjust="spacingAndGlyphs">90</text>
<text x="76.20" y="92.50" font-size="43.84" textLength="76.38" lengthAdjust="spacingAndGlyphs">100</text>
<text x="1226.70" y="1417.10" font-size="47.56" textLength="345.05" lengthAdjust="spacingAndGlyphs">Gregorian year</text>
<text x="46.70" y="1137.10" font-size="47.56" textLength="903.07" lengthAdjust="spacingAndGlyphs" transform="rotate(-90 46.70 1137.10)">Days since winter solstice (Dec 22 = 1)</text>
<text x="2818.70" y="664.60" font-size="45.05" textLength="151.11" lengthAdjust="spacingAndGlyphs">Phugpa</text>
<text x="2818.70" y="725.10" font-size="42.40" textLength="207.23" lengthAdjust="spacingAndGlyphs">L1 (Mean)</text>
<circle cx="2744.5" cy="655.5" r="7.2" fill="#1f77b4" fill-opacity="0.35"/>
<rect x="2737.0" y="710.0" width="15.0" height="15.0" fill="none" stroke="#2ca02c" stroke-opacity="0.6" stroke-width="3.9" stroke-linejoin="round"/>
</svg></body></html>
